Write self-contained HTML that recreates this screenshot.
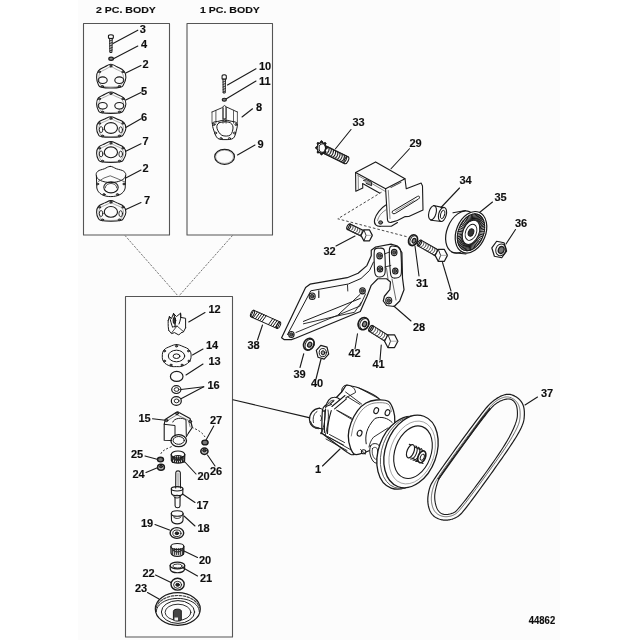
<!DOCTYPE html>
<html><head><meta charset="utf-8"><style>
html,body{margin:0;padding:0;background:#fff;}
svg{display:block;}
text{font-family:"Liberation Sans",sans-serif;font-weight:bold;fill:#111;stroke:#111;stroke-width:0.15px;}
</style></head><body>
<svg width="640" height="640" viewBox="0 0 640 640" stroke-linecap="round" stroke-linejoin="round">
<defs><filter id="soft" x="0" y="0" width="640" height="640" filterUnits="userSpaceOnUse"><feGaussianBlur stdDeviation="0.3"/></filter></defs>
<g filter="url(#soft)">
<rect x="0" y="0" width="640" height="640" fill="#ffffff"/>
<rect x="78" y="0" width="482" height="640" fill="#fcfcfc"/>
<text x="96" y="12.6" font-size="9.8" transform="translate(96 0) scale(1.08 1) translate(-96 0)">2 PC. BODY</text>
<text x="200" y="12.6" font-size="9.8" transform="translate(200 0) scale(1.08 1) translate(-200 0)">1 PC. BODY</text>
<rect x="83.5" y="23.5" width="86" height="211.5" fill="none" stroke="#555" stroke-width="1.1"/>
<rect x="187" y="23.5" width="85.5" height="211.5" fill="none" stroke="#555" stroke-width="1.1"/>
<rect x="125.5" y="296.5" width="107" height="340.5" fill="none" stroke="#555" stroke-width="1.1"/>
<line x1="125" y1="235.5" x2="178.5" y2="296.5" stroke="#666" stroke-width="0.9" stroke-dasharray="2.2,1.3" stroke-linecap="butt"/>
<line x1="232.5" y1="235.5" x2="178.5" y2="296.5" stroke="#666" stroke-width="0.9" stroke-dasharray="2.2,1.3" stroke-linecap="butt"/>
<text x="139.7" y="33.4" font-size="11">3</text>
<text x="141" y="48.4" font-size="11">4</text>
<text x="142.5" y="68.2" font-size="11">2</text>
<text x="141" y="94.9" font-size="11">5</text>
<text x="141" y="121.4" font-size="11">6</text>
<text x="142.5" y="145.4" font-size="11">7</text>
<text x="142.5" y="172.4" font-size="11">2</text>
<text x="144" y="204.4" font-size="11">7</text>
<text x="259" y="70.4" font-size="11">10</text>
<text x="259" y="84.9" font-size="11">11</text>
<text x="256" y="111.4" font-size="11">8</text>
<text x="257.5" y="148.4" font-size="11">9</text>
<text x="208.5" y="313.4" font-size="11">12</text>
<text x="206" y="349.4" font-size="11">14</text>
<text x="208.5" y="365.4" font-size="11">13</text>
<text x="207.5" y="389.4" font-size="11">16</text>
<text x="138.5" y="421.9" font-size="11">15</text>
<text x="210" y="424.4" font-size="11">27</text>
<text x="131" y="458.4" font-size="11">25</text>
<text x="132.5" y="478.4" font-size="11">24</text>
<text x="197.5" y="479.9" font-size="11">20</text>
<text x="210" y="475.4" font-size="11">26</text>
<text x="196.5" y="509.4" font-size="11">17</text>
<text x="197.5" y="532.4" font-size="11">18</text>
<text x="141" y="526.9" font-size="11">19</text>
<text x="199" y="564.4" font-size="11">20</text>
<text x="200" y="581.9" font-size="11">21</text>
<text x="142.5" y="576.6" font-size="11">22</text>
<text x="135" y="591.9" font-size="11">23</text>
<text x="352.5" y="126.4" font-size="11">33</text>
<text x="409.5" y="146.9" font-size="11">29</text>
<text x="459.5" y="183.9" font-size="11">34</text>
<text x="494.5" y="201.4" font-size="11">35</text>
<text x="515" y="226.9" font-size="11">36</text>
<text x="323.5" y="255.4" font-size="11">32</text>
<text x="416" y="287.4" font-size="11">31</text>
<text x="447" y="299.9" font-size="11">30</text>
<text x="413" y="331.4" font-size="11">28</text>
<text x="247.5" y="349.4" font-size="11">38</text>
<text x="348.5" y="357.4" font-size="11">42</text>
<text x="372.5" y="367.9" font-size="11">41</text>
<text x="293.5" y="377.9" font-size="11">39</text>
<text x="311" y="387.4" font-size="11">40</text>
<text x="315" y="473" font-size="11">1</text>
<text x="541" y="396.9" font-size="11">37</text>
<text x="528.8" y="623.8" font-size="11.3" transform="translate(528.8 0) scale(0.84 1) translate(-528.8 0)">44862</text>
<line x1="137.8" y1="30.2" x2="113" y2="43.6" stroke="#1a1a1a" stroke-width="1.1" />
<line x1="137.8" y1="46" x2="113.4" y2="58.75" stroke="#1a1a1a" stroke-width="1.1" />
<line x1="141" y1="65.5" x2="125.75" y2="73" stroke="#1a1a1a" stroke-width="1.1" />
<line x1="141" y1="92.5" x2="125.75" y2="100" stroke="#1a1a1a" stroke-width="1.1" />
<line x1="141" y1="118.75" x2="125.75" y2="127.5" stroke="#1a1a1a" stroke-width="1.1" />
<line x1="141" y1="143.75" x2="125.75" y2="151.25" stroke="#1a1a1a" stroke-width="1.1" />
<line x1="141" y1="170" x2="125.75" y2="178" stroke="#1a1a1a" stroke-width="1.1" />
<line x1="141" y1="202.5" x2="125.75" y2="209.5" stroke="#1a1a1a" stroke-width="1.1" />
<line x1="256" y1="68.75" x2="227.5" y2="85" stroke="#1a1a1a" stroke-width="1.1" />
<line x1="256" y1="81" x2="226" y2="99" stroke="#1a1a1a" stroke-width="1.1" />
<line x1="252.5" y1="108.75" x2="242" y2="117" stroke="#1a1a1a" stroke-width="1.1" />
<line x1="255" y1="145" x2="237.5" y2="155" stroke="#1a1a1a" stroke-width="1.1" />
<line x1="205" y1="312.5" x2="188.75" y2="322" stroke="#1a1a1a" stroke-width="1.1" />
<line x1="203" y1="349" x2="192.5" y2="355" stroke="#1a1a1a" stroke-width="1.1" />
<line x1="203" y1="364" x2="186" y2="375" stroke="#1a1a1a" stroke-width="1.1" />
<line x1="203.75" y1="386.75" x2="181" y2="389.5" stroke="#1a1a1a" stroke-width="1.1" />
<line x1="203.75" y1="386.75" x2="181" y2="398.75" stroke="#1a1a1a" stroke-width="1.1" />
<line x1="152.5" y1="418.75" x2="167.5" y2="420.5" stroke="#1a1a1a" stroke-width="1.1" />
<line x1="213.75" y1="426" x2="206" y2="440" stroke="#1a1a1a" stroke-width="1.1" />
<line x1="207.5" y1="455" x2="215" y2="466" stroke="#1a1a1a" stroke-width="1.1" />
<line x1="145" y1="456" x2="158" y2="459.5" stroke="#1a1a1a" stroke-width="1.1" />
<line x1="146" y1="472.5" x2="158" y2="467.5" stroke="#1a1a1a" stroke-width="1.1" />
<line x1="196" y1="474" x2="184" y2="461" stroke="#1a1a1a" stroke-width="1.1" />
<line x1="195" y1="502.5" x2="182.5" y2="494" stroke="#1a1a1a" stroke-width="1.1" />
<line x1="195" y1="526" x2="184" y2="516" stroke="#1a1a1a" stroke-width="1.1" />
<line x1="155" y1="524.5" x2="169.5" y2="530" stroke="#1a1a1a" stroke-width="1.1" />
<line x1="197.5" y1="557.5" x2="184" y2="551" stroke="#1a1a1a" stroke-width="1.1" />
<line x1="197.5" y1="576" x2="182.5" y2="567.5" stroke="#1a1a1a" stroke-width="1.1" />
<line x1="155.5" y1="575" x2="171" y2="582.5" stroke="#1a1a1a" stroke-width="1.1" />
<line x1="147.5" y1="592.5" x2="159" y2="599" stroke="#1a1a1a" stroke-width="1.1" />
<line x1="351" y1="129.5" x2="335.5" y2="148.75" stroke="#1a1a1a" stroke-width="1.1" />
<line x1="409.5" y1="148.75" x2="391" y2="168.75" stroke="#1a1a1a" stroke-width="1.1" />
<line x1="336" y1="246" x2="355" y2="236" stroke="#1a1a1a" stroke-width="1.1" />
<line x1="459.5" y1="188" x2="441" y2="207.5" stroke="#1a1a1a" stroke-width="1.1" />
<line x1="492.5" y1="202" x2="479.5" y2="212.5" stroke="#1a1a1a" stroke-width="1.1" />
<line x1="515.5" y1="229.5" x2="506" y2="244" stroke="#1a1a1a" stroke-width="1.1" />
<line x1="415" y1="246" x2="419" y2="276" stroke="#1a1a1a" stroke-width="1.1" />
<line x1="442.5" y1="262.5" x2="451" y2="291" stroke="#1a1a1a" stroke-width="1.1" />
<line x1="411" y1="321" x2="393.75" y2="306" stroke="#1a1a1a" stroke-width="1.1" />
<line x1="257.5" y1="340" x2="262.5" y2="325" stroke="#1a1a1a" stroke-width="1.1" />
<line x1="300" y1="367.5" x2="303.75" y2="353.75" stroke="#1a1a1a" stroke-width="1.1" />
<line x1="321" y1="359" x2="316" y2="379" stroke="#1a1a1a" stroke-width="1.1" />
<line x1="355" y1="348.75" x2="357.5" y2="333.75" stroke="#1a1a1a" stroke-width="1.1" />
<line x1="380" y1="360" x2="381.25" y2="345" stroke="#1a1a1a" stroke-width="1.1" />
<line x1="322.5" y1="466" x2="340" y2="449" stroke="#1a1a1a" stroke-width="1.1" />
<line x1="537.5" y1="397" x2="525" y2="405" stroke="#1a1a1a" stroke-width="1.1" />
<line x1="233" y1="399.8" x2="309" y2="417.6" stroke="#1a1a1a" stroke-width="1.1" />
<path d="M108.6,35.4 C108.75,35.16 110.59,34.7 110.9,34.7 C111.21,34.7 113.05,35.16 113.2,35.4 C113.35,35.64 113.51,38.11 113.2,38.3 C112.89,38.49 108.91,38.49 108.6,38.3 C108.29,38.11 108.45,35.64 108.6,35.4Z" fill="none" stroke="#1a1a1a" stroke-width="1.1" />
<path d="M109.7,38.3 L109.9,52.5 L111.9,52.5 L112.2,38.3" fill="none" stroke="#1a1a1a" stroke-width="1" />
<line x1="109.7" y1="41" x2="112.2" y2="40" stroke="#1a1a1a" stroke-width="0.9" />
<line x1="109.7" y1="43.5" x2="112.2" y2="42.5" stroke="#1a1a1a" stroke-width="0.9" />
<line x1="109.7" y1="46" x2="112.2" y2="45" stroke="#1a1a1a" stroke-width="0.9" />
<line x1="109.7" y1="48.5" x2="112.2" y2="47.5" stroke="#1a1a1a" stroke-width="0.9" />
<line x1="109.7" y1="51" x2="112.2" y2="50" stroke="#1a1a1a" stroke-width="0.9" />
<ellipse cx="111.1" cy="58.8" rx="2.3" ry="1.6" fill="#888" stroke="#1a1a1a" stroke-width="1.2"/>
<path d="M110.9,64.21 C113.3,64.21 114.34,65.5 116.9,66.81 C119.46,68.12 121.9,68.62 123.7,70.76 C125.5,72.9 125.96,74.71 125.9,77.52 C125.84,80.33 124.5,82.87 123.4,84.8 C122.3,86.73 122.9,86.55 120.4,87.19 C117.9,87.84 114.7,88.02 110.9,88.02 C107.1,88.02 103.9,87.84 101.4,87.19 C98.9,86.55 99.36,86.73 98.4,84.8 C97.44,82.87 96.6,80.33 96.6,77.52 C96.6,74.71 96.74,72.9 98.4,70.76 C100.06,68.62 102.4,68.12 104.9,66.81 C107.4,65.5 108.5,64.21 110.9,64.21Z" fill="none" stroke="#1a1a1a" stroke-width="1.05" />
<path d="M110.9,66.95 C112.92,66.95 113.79,68.04 115.94,69.14 C118.09,70.24 120.14,70.66 121.65,72.46 C123.16,74.26 123.55,75.78 123.5,78.14 C123.45,80.5 122.32,82.63 121.4,84.25 C120.48,85.88 120.98,85.72 118.88,86.26 C116.78,86.8 114.09,86.96 110.9,86.96 C107.71,86.96 105.02,86.8 102.92,86.26 C100.82,85.72 101.21,85.88 100.4,84.25 C99.59,82.63 98.89,80.5 98.89,78.14 C98.89,75.78 99.01,74.26 100.4,72.46 C101.79,70.66 103.76,70.24 105.86,69.14 C107.96,68.04 108.88,66.95 110.9,66.95Z" fill="none" stroke="#666" stroke-width="0.55" />
<ellipse cx="110.9" cy="65.98" rx="1.2" ry="0.9" fill="#666" stroke="#1a1a1a" stroke-width="0.8"/>
<ellipse cx="122.9" cy="71.8" rx="1.2" ry="0.9" fill="#666" stroke="#1a1a1a" stroke-width="0.8"/>
<ellipse cx="99.4" cy="71.8" rx="1.2" ry="0.9" fill="#666" stroke="#1a1a1a" stroke-width="0.8"/>
<ellipse cx="119.4" cy="86.36" rx="1.2" ry="0.9" fill="#666" stroke="#1a1a1a" stroke-width="0.8"/>
<ellipse cx="102.4" cy="86.36" rx="1.2" ry="0.9" fill="#666" stroke="#1a1a1a" stroke-width="0.8"/>
<ellipse cx="102.7" cy="80.2" rx="4.5" ry="3.3" fill="none" stroke="#1a1a1a" stroke-width="1.1"/>
<ellipse cx="119.3" cy="80.2" rx="4.5" ry="3.3" fill="none" stroke="#1a1a1a" stroke-width="1.1"/>
<path d="M110.9,91.94 C113.3,91.94 114.34,93.1 116.9,94.29 C119.46,95.47 121.9,95.92 123.7,97.86 C125.5,99.8 125.96,101.43 125.9,103.97 C125.84,106.51 124.5,108.8 123.4,110.55 C122.3,112.3 122.9,112.13 120.4,112.71 C117.9,113.29 114.7,113.46 110.9,113.46 C107.1,113.46 103.9,113.29 101.4,112.71 C98.9,112.13 99.36,112.3 98.4,110.55 C97.44,108.8 96.6,106.51 96.6,103.97 C96.6,101.43 96.74,99.8 98.4,97.86 C100.06,95.92 102.4,95.47 104.9,94.29 C107.4,93.1 108.5,91.94 110.9,91.94Z" fill="none" stroke="#1a1a1a" stroke-width="1.05" />
<path d="M110.9,94.49 C112.92,94.49 113.79,95.47 115.94,96.46 C118.09,97.46 120.14,97.84 121.65,99.46 C123.16,101.09 123.55,102.46 123.5,104.59 C123.45,106.73 122.32,108.65 121.4,110.12 C120.48,111.59 120.98,111.45 118.88,111.94 C116.78,112.43 114.09,112.57 110.9,112.57 C107.71,112.57 105.02,112.43 102.92,111.94 C100.82,111.45 101.21,111.59 100.4,110.12 C99.59,108.65 98.89,106.73 98.89,104.59 C98.89,102.46 99.01,101.09 100.4,99.46 C101.79,97.84 103.76,97.46 105.86,96.46 C107.96,95.47 108.88,94.49 110.9,94.49Z" fill="none" stroke="#666" stroke-width="0.55" />
<ellipse cx="110.9" cy="93.54" rx="1.2" ry="0.9" fill="#666" stroke="#1a1a1a" stroke-width="0.8"/>
<ellipse cx="122.9" cy="98.8" rx="1.2" ry="0.9" fill="#666" stroke="#1a1a1a" stroke-width="0.8"/>
<ellipse cx="99.4" cy="98.8" rx="1.2" ry="0.9" fill="#666" stroke="#1a1a1a" stroke-width="0.8"/>
<ellipse cx="119.4" cy="111.96" rx="1.2" ry="0.9" fill="#666" stroke="#1a1a1a" stroke-width="0.8"/>
<ellipse cx="102.4" cy="111.96" rx="1.2" ry="0.9" fill="#666" stroke="#1a1a1a" stroke-width="0.8"/>
<ellipse cx="102.7" cy="105.8" rx="4.5" ry="3.3" fill="none" stroke="#1a1a1a" stroke-width="1.1"/>
<ellipse cx="119.3" cy="105.8" rx="4.5" ry="3.3" fill="none" stroke="#1a1a1a" stroke-width="1.1"/>
<path d="M110.9,116.73 C113.3,116.73 114.34,117.85 116.9,118.98 C119.46,120.11 121.9,120.55 123.7,122.4 C125.5,124.25 125.96,125.82 125.9,128.25 C125.84,130.68 124.5,132.88 123.4,134.55 C122.3,136.22 122.9,136.06 120.4,136.62 C117.9,137.18 114.7,137.34 110.9,137.34 C107.1,137.34 103.9,137.18 101.4,136.62 C98.9,136.06 99.36,136.22 98.4,134.55 C97.44,132.88 96.6,130.68 96.6,128.25 C96.6,125.82 96.74,124.25 98.4,122.4 C100.06,120.55 102.4,120.11 104.9,118.98 C107.4,117.85 108.5,116.73 110.9,116.73Z" fill="none" stroke="#1a1a1a" stroke-width="1.05" />
<path d="M110.9,119.2 C112.92,119.2 113.79,120.14 115.94,121.09 C118.09,122.04 120.14,122.41 121.65,123.96 C123.16,125.52 123.55,126.84 123.5,128.88 C123.45,130.92 122.32,132.76 121.4,134.17 C120.48,135.58 120.98,135.44 118.88,135.91 C116.78,136.38 114.09,136.51 110.9,136.51 C107.71,136.51 105.02,136.38 102.92,135.91 C100.82,135.44 101.21,135.58 100.4,134.17 C99.59,132.76 98.89,130.92 98.89,128.88 C98.89,126.84 99.01,125.52 100.4,123.96 C101.79,122.41 103.76,122.04 105.86,121.09 C107.96,120.14 108.88,119.2 110.9,119.2Z" fill="none" stroke="#666" stroke-width="0.55" />
<ellipse cx="110.9" cy="118.26" rx="1.2" ry="0.9" fill="#666" stroke="#1a1a1a" stroke-width="0.8"/>
<ellipse cx="122.9" cy="123.3" rx="1.2" ry="0.9" fill="#666" stroke="#1a1a1a" stroke-width="0.8"/>
<ellipse cx="99.4" cy="123.3" rx="1.2" ry="0.9" fill="#666" stroke="#1a1a1a" stroke-width="0.8"/>
<ellipse cx="119.4" cy="135.9" rx="1.2" ry="0.9" fill="#666" stroke="#1a1a1a" stroke-width="0.8"/>
<ellipse cx="102.4" cy="135.9" rx="1.2" ry="0.9" fill="#666" stroke="#1a1a1a" stroke-width="0.8"/>
<ellipse cx="110.9" cy="128" rx="6.6" ry="5.4" fill="none" stroke="#1a1a1a" stroke-width="1.1"/>
<ellipse cx="101.1" cy="129.6" rx="1.8" ry="3" fill="none" stroke="#1a1a1a" stroke-width="0.9"/>
<ellipse cx="120.7" cy="129.8" rx="1.8" ry="3" fill="none" stroke="#1a1a1a" stroke-width="0.9"/>
<path d="M110.9,141.48 C113.3,141.48 114.34,142.62 116.9,143.78 C119.46,144.94 121.9,145.38 123.7,147.28 C125.5,149.18 125.96,150.78 125.9,153.26 C125.84,155.74 124.5,157.99 123.4,159.7 C122.3,161.41 122.9,161.25 120.4,161.82 C117.9,162.39 114.7,162.55 110.9,162.55 C107.1,162.55 103.9,162.39 101.4,161.82 C98.9,161.25 99.36,161.41 98.4,159.7 C97.44,157.99 96.6,155.74 96.6,153.26 C96.6,150.78 96.74,149.18 98.4,147.28 C100.06,145.38 102.4,144.94 104.9,143.78 C107.4,142.62 108.5,141.48 110.9,141.48Z" fill="none" stroke="#1a1a1a" stroke-width="1.05" />
<path d="M110.9,143.99 C112.92,143.99 113.79,144.95 115.94,145.93 C118.09,146.9 120.14,147.27 121.65,148.86 C123.16,150.46 123.55,151.8 123.5,153.89 C123.45,155.97 122.32,157.86 121.4,159.3 C120.48,160.73 120.98,160.59 118.88,161.07 C116.78,161.55 114.09,161.69 110.9,161.69 C107.71,161.69 105.02,161.55 102.92,161.07 C100.82,160.59 101.21,160.73 100.4,159.3 C99.59,157.86 98.89,155.97 98.89,153.89 C98.89,151.8 99.01,150.46 100.4,148.86 C101.79,147.27 103.76,146.9 105.86,145.93 C107.96,144.95 108.88,143.99 110.9,143.99Z" fill="none" stroke="#666" stroke-width="0.55" />
<ellipse cx="110.9" cy="143.05" rx="1.2" ry="0.9" fill="#666" stroke="#1a1a1a" stroke-width="0.8"/>
<ellipse cx="122.9" cy="148.2" rx="1.2" ry="0.9" fill="#666" stroke="#1a1a1a" stroke-width="0.8"/>
<ellipse cx="99.4" cy="148.2" rx="1.2" ry="0.9" fill="#666" stroke="#1a1a1a" stroke-width="0.8"/>
<ellipse cx="119.4" cy="161.08" rx="1.2" ry="0.9" fill="#666" stroke="#1a1a1a" stroke-width="0.8"/>
<ellipse cx="102.4" cy="161.08" rx="1.2" ry="0.9" fill="#666" stroke="#1a1a1a" stroke-width="0.8"/>
<ellipse cx="110.9" cy="152.3" rx="6.6" ry="5.4" fill="none" stroke="#1a1a1a" stroke-width="1.1"/>
<ellipse cx="101.1" cy="153.9" rx="1.8" ry="3" fill="none" stroke="#1a1a1a" stroke-width="0.9"/>
<ellipse cx="120.7" cy="154.1" rx="1.8" ry="3" fill="none" stroke="#1a1a1a" stroke-width="0.9"/>
<path d="M110.9,200.63 C113.3,200.63 114.34,201.75 116.9,202.88 C119.46,204.01 121.9,204.45 123.7,206.3 C125.5,208.15 125.96,209.72 125.9,212.15 C125.84,214.58 124.5,216.78 123.4,218.45 C122.3,220.12 122.9,219.96 120.4,220.52 C117.9,221.08 114.7,221.24 110.9,221.24 C107.1,221.24 103.9,221.08 101.4,220.52 C98.9,219.96 99.36,220.12 98.4,218.45 C97.44,216.78 96.6,214.58 96.6,212.15 C96.6,209.72 96.74,208.15 98.4,206.3 C100.06,204.45 102.4,204.01 104.9,202.88 C107.4,201.75 108.5,200.63 110.9,200.63Z" fill="none" stroke="#1a1a1a" stroke-width="1.05" />
<path d="M110.9,203.1 C112.92,203.1 113.79,204.04 115.94,204.99 C118.09,205.94 120.14,206.31 121.65,207.86 C123.16,209.42 123.55,210.74 123.5,212.78 C123.45,214.82 122.32,216.66 121.4,218.07 C120.48,219.48 120.98,219.34 118.88,219.81 C116.78,220.28 114.09,220.41 110.9,220.41 C107.71,220.41 105.02,220.28 102.92,219.81 C100.82,219.34 101.21,219.48 100.4,218.07 C99.59,216.66 98.89,214.82 98.89,212.78 C98.89,210.74 99.01,209.42 100.4,207.86 C101.79,206.31 103.76,205.94 105.86,204.99 C107.96,204.04 108.88,203.1 110.9,203.1Z" fill="none" stroke="#666" stroke-width="0.55" />
<ellipse cx="110.9" cy="202.16" rx="1.2" ry="0.9" fill="#666" stroke="#1a1a1a" stroke-width="0.8"/>
<ellipse cx="122.9" cy="207.2" rx="1.2" ry="0.9" fill="#666" stroke="#1a1a1a" stroke-width="0.8"/>
<ellipse cx="99.4" cy="207.2" rx="1.2" ry="0.9" fill="#666" stroke="#1a1a1a" stroke-width="0.8"/>
<ellipse cx="119.4" cy="219.8" rx="1.2" ry="0.9" fill="#666" stroke="#1a1a1a" stroke-width="0.8"/>
<ellipse cx="102.4" cy="219.8" rx="1.2" ry="0.9" fill="#666" stroke="#1a1a1a" stroke-width="0.8"/>
<ellipse cx="110.9" cy="211.9" rx="6.6" ry="5.4" fill="none" stroke="#1a1a1a" stroke-width="1.1"/>
<ellipse cx="101.1" cy="213.5" rx="1.8" ry="3" fill="none" stroke="#1a1a1a" stroke-width="0.9"/>
<ellipse cx="120.7" cy="213.7" rx="1.8" ry="3" fill="none" stroke="#1a1a1a" stroke-width="0.9"/>
<path d="M110.3,166.4 C112.74,166.4 113.8,167.82 116.5,168.8 C119.2,169.78 121.98,169.86 123.8,171.3 C125.62,172.74 126.16,174.16 125.6,176 C125.04,177.84 123.96,179.2 121,180.5 C118.04,181.8 114.9,182.5 110.8,182.5 C106.7,182.5 103.38,181.8 100.5,180.5 C97.62,179.2 96.94,177.84 96.4,176 C95.86,174.16 96.22,172.74 97.8,171.3 C99.38,169.86 101.8,169.78 104.3,168.8 C106.8,167.82 107.86,166.4 110.3,166.4Z" fill="none" stroke="#1a1a1a" stroke-width="1" />
<path d="M98.4,181.4 L104,178 L110.2,175.8 L117,178.5 L124.7,181.9" fill="none" stroke="#444" stroke-width="0.8" />
<path d="M96.4,176 L96.8,188 C98,194 104,196.6 110.8,196.6 C117.6,196.6 124,194 125.2,188 L125.6,176" fill="none" stroke="#1a1a1a" stroke-width="1" />
<ellipse cx="111" cy="187.3" rx="7.2" ry="5.6" fill="none" stroke="#1a1a1a" stroke-width="1.1"/>
<path d="M105.4,187.8 L105.45,187.24 L105.59,186.69 L105.83,186.15 L106.15,185.65 L106.56,185.18 L107.04,184.76 L107.59,184.39 L108.2,184.08 L108.86,183.83 L109.55,183.65 L110.27,183.54 L111,183.5 L111.73,183.54 L112.45,183.65 L113.14,183.83 L113.8,184.08 L114.41,184.39 L114.96,184.76 L115.44,185.18 L115.85,185.65 L116.17,186.15 L116.41,186.69 L116.55,187.24 L116.6,187.8" fill="none" stroke="#222" stroke-width="0.9" />
<ellipse cx="97.5" cy="184" rx="1.2" ry="0.9" fill="#666" stroke="#1a1a1a" stroke-width="0.8"/>
<ellipse cx="124" cy="184" rx="1.2" ry="0.9" fill="#666" stroke="#1a1a1a" stroke-width="0.8"/>
<ellipse cx="104" cy="194.5" rx="1.2" ry="0.9" fill="#666" stroke="#1a1a1a" stroke-width="0.8"/>
<ellipse cx="117.5" cy="194.5" rx="1.2" ry="0.9" fill="#666" stroke="#1a1a1a" stroke-width="0.8"/>
<path d="M222.2,75.6 C222.33,75.32 223.93,74.8 224.2,74.8 C224.47,74.8 226.07,75.32 226.2,75.6 C226.33,75.88 226.47,78.77 226.2,79 C225.93,79.23 222.47,79.23 222.2,79 C221.93,78.77 222.07,75.88 222.2,75.6Z" fill="none" stroke="#1a1a1a" stroke-width="1.1" />
<path d="M223,79 L223.2,93 L225.2,93 L225.4,79" fill="none" stroke="#1a1a1a" stroke-width="1" />
<line x1="223" y1="82" x2="225.4" y2="81" stroke="#1a1a1a" stroke-width="0.8" />
<line x1="223" y1="84.5" x2="225.4" y2="83.5" stroke="#1a1a1a" stroke-width="0.8" />
<line x1="223" y1="87" x2="225.4" y2="86" stroke="#1a1a1a" stroke-width="0.8" />
<line x1="223" y1="89.5" x2="225.4" y2="88.5" stroke="#1a1a1a" stroke-width="0.8" />
<line x1="223" y1="92" x2="225.4" y2="91" stroke="#1a1a1a" stroke-width="0.8" />
<ellipse cx="224.3" cy="99.8" rx="2.1" ry="1.5" fill="#777" stroke="#1a1a1a" stroke-width="1.1"/>
<path d="M212,112 L221.8,107.8 L224.4,105.5 L226.5,107 L237.4,112" fill="none" stroke="#1a1a1a" stroke-width="0.9" />
<line x1="212" y1="112" x2="212" y2="123.2" stroke="#333" stroke-width="0.8" />
<line x1="215.9" y1="110.3" x2="215.9" y2="123.2" stroke="#333" stroke-width="0.8" />
<line x1="223" y1="107.8" x2="223" y2="123.2" stroke="#333" stroke-width="0.8" />
<line x1="226.1" y1="107.3" x2="226.1" y2="123.2" stroke="#333" stroke-width="0.8" />
<line x1="233.5" y1="110.3" x2="233.5" y2="123.2" stroke="#333" stroke-width="0.8" />
<line x1="237.4" y1="112" x2="237.4" y2="123.2" stroke="#333" stroke-width="0.8" />
<path d="M223,107.8 L223,119 L226.1,118.5 L226.1,107.3" fill="none" stroke="#1a1a1a" stroke-width="0.8" />
<path d="M212.6,123 C213.43,121.37 217.02,121.7 219,121.2 C220.98,120.7 222.67,120.03 224.5,120 C226.33,119.97 227.92,120.47 230,121 C232.08,121.53 235.97,121.53 237,123.2 C238.03,124.87 236.83,128.48 236.2,131 C235.57,133.52 235.07,136.87 233.2,138.3 C231.33,139.73 227.58,139.6 225,139.6 C222.42,139.6 219.53,139.73 217.7,138.3 C215.87,136.87 214.85,133.55 214,131 C213.15,128.45 211.77,124.63 212.6,123Z" fill="none" stroke="#1a1a1a" stroke-width="1" />
<path d="M219,122.8 C221,121.78 226.67,121.5 229,122.2 C231.33,122.9 232.77,124.87 233,127 C233.23,129.13 232.25,133.62 230.4,135 C228.55,136.38 224.13,136.42 221.9,135.3 C219.67,134.18 217.48,130.38 217,128.3 C216.52,126.22 217,123.82 219,122.8Z" fill="none" stroke="#1a1a1a" stroke-width="1" />
<ellipse cx="214" cy="124.5" rx="1.1" ry="1" fill="#aaa" stroke="#1a1a1a" stroke-width="0.8"/>
<ellipse cx="236" cy="124.5" rx="1.1" ry="1" fill="#aaa" stroke="#1a1a1a" stroke-width="0.8"/>
<ellipse cx="215.5" cy="133" rx="1.1" ry="1" fill="#aaa" stroke="#1a1a1a" stroke-width="0.8"/>
<ellipse cx="234.5" cy="133" rx="1.1" ry="1" fill="#aaa" stroke="#1a1a1a" stroke-width="0.8"/>
<ellipse cx="221" cy="138.5" rx="1.1" ry="1" fill="#aaa" stroke="#1a1a1a" stroke-width="0.8"/>
<ellipse cx="229.5" cy="138.5" rx="1.1" ry="1" fill="#aaa" stroke="#1a1a1a" stroke-width="0.8"/>
<ellipse cx="224.8" cy="120.8" rx="1.1" ry="1" fill="#aaa" stroke="#1a1a1a" stroke-width="0.8"/>
<ellipse cx="224.6" cy="156.8" rx="9.9" ry="7.5" fill="none" stroke="#1a1a1a" stroke-width="1.2"/>
<ellipse cx="224.6" cy="156.8" rx="8.9" ry="6.6" fill="none" stroke="#777" stroke-width="0.5"/>
<path d="M168.2,320.5 C168,325 168.3,329 168.8,330.5" fill="none" stroke="#1a1a1a" stroke-width="1" />
<path d="M168.8,330.5 L171.6,333.6 L174.5,332.6 L178.8,335 L181,332.8 L183.4,332 L185.6,327.8" fill="none" stroke="#1a1a1a" stroke-width="1" />
<path d="M185.6,327.8 L185.6,318.3 L181.3,317.5" fill="none" stroke="#1a1a1a" stroke-width="1" />
<path d="M169.4,316.5 C170.5,320 171.5,325 172.5,327" fill="none" stroke="#1a1a1a" stroke-width="1" />
<path d="M173.5,313.5 C175,317 175.5,322 175,327" fill="none" stroke="#1a1a1a" stroke-width="1.2" />
<path d="M180.6,313.2 C181.5,316 180.5,320 179,324" fill="none" stroke="#1a1a1a" stroke-width="1" />
<path d="M172.5,327 L177,326 L183.4,331.5 M177,326 L171.5,333" fill="none" stroke="#1a1a1a" stroke-width="0.8" />
<ellipse cx="174.4" cy="320.5" rx="1.3" ry="3.4" fill="#333" stroke="#1a1a1a" stroke-width="1"/>
<path d="M168.2,320.5 L169.4,316.5 L171.5,318.5 L173.5,313.5 L176.5,316.5 L180.6,313.2 L180.6,317.3" fill="none" stroke="#1a1a1a" stroke-width="1" />
<path d="M176.5,344.6 C179.1,344.6 180.44,345.42 183,346.5 C185.56,347.58 187.68,348.1 189.3,350 C190.92,351.9 191.16,353.6 191.1,356 C191.04,358.4 190.72,360 189,362 C187.28,364 185,365.08 182.5,366 C180,366.92 179,366.6 176.5,366.6 C174,366.6 172.54,366.92 170,366 C167.46,365.08 165.34,364 163.8,362 C162.26,360 162.26,358.4 162.3,356 C162.34,353.6 162.46,351.9 164,350 C165.54,348.1 167.5,347.58 170,346.5 C172.5,345.42 173.9,344.6 176.5,344.6Z" fill="none" stroke="#1a1a1a" stroke-width="1" />
<ellipse cx="176.5" cy="356" rx="8.2" ry="5.8" fill="none" stroke="#1a1a1a" stroke-width="1"/>
<ellipse cx="176.5" cy="356.2" rx="3.4" ry="2.3" fill="none" stroke="#1a1a1a" stroke-width="1"/>
<ellipse cx="176.5" cy="346.2" rx="1.1" ry="0.9" fill="#666" stroke="#1a1a1a" stroke-width="0.8"/>
<ellipse cx="188.5" cy="351" rx="1.1" ry="0.9" fill="#666" stroke="#1a1a1a" stroke-width="0.8"/>
<ellipse cx="189" cy="361" rx="1.1" ry="0.9" fill="#666" stroke="#1a1a1a" stroke-width="0.8"/>
<ellipse cx="164.5" cy="351" rx="1.1" ry="0.9" fill="#666" stroke="#1a1a1a" stroke-width="0.8"/>
<ellipse cx="164.5" cy="361" rx="1.1" ry="0.9" fill="#666" stroke="#1a1a1a" stroke-width="0.8"/>
<ellipse cx="171" cy="365" rx="1.1" ry="0.9" fill="#666" stroke="#1a1a1a" stroke-width="0.8"/>
<ellipse cx="182" cy="365" rx="1.1" ry="0.9" fill="#666" stroke="#1a1a1a" stroke-width="0.8"/>
<ellipse cx="176.7" cy="376.4" rx="6.3" ry="5" fill="none" stroke="#1a1a1a" stroke-width="1.2"/>
<ellipse cx="176.3" cy="389.6" rx="4.6" ry="3.9" fill="none" stroke="#1a1a1a" stroke-width="1.2"/>
<ellipse cx="176.6" cy="389.5" rx="2.4" ry="1.9" fill="none" stroke="#1a1a1a" stroke-width="0.9"/>
<ellipse cx="176.3" cy="401" rx="5" ry="4.3" fill="none" stroke="#1a1a1a" stroke-width="1.2"/>
<ellipse cx="176.6" cy="400.9" rx="2.4" ry="1.9" fill="none" stroke="#1a1a1a" stroke-width="0.9"/>
<path d="M165.2,419.5 L176,412.6 C177,411.8 178,411.8 179,412.4 L190,418.5 L192.3,427.5 L188.5,433" fill="none" stroke="#1a1a1a" stroke-width="1.2" />
<path d="M167.5,420.5 L177,414.8 L188.3,420.2 L190.2,427" fill="none" stroke="#555" stroke-width="0.7" />
<path d="M165.2,419.5 L164.2,424.3 L164.2,440.3 L171.5,440.5" fill="none" stroke="#1a1a1a" stroke-width="1.1" />
<path d="M164.2,424.3 L175,425.5 L175,436" fill="none" stroke="#1a1a1a" stroke-width="1" />
<path d="M172.8,422 C174,418 182,417 186,420 L186.3,436" fill="none" stroke="#1a1a1a" stroke-width="1" />
<path d="M188.5,433 L186.3,437" fill="none" stroke="#1a1a1a" stroke-width="1" />
<ellipse cx="178.7" cy="440.7" rx="7.8" ry="6" fill="none" stroke="#1a1a1a" stroke-width="1.3"/>
<ellipse cx="178.7" cy="440.4" rx="5.6" ry="3.9" fill="none" stroke="#1a1a1a" stroke-width="1"/>
<ellipse cx="177" cy="413.5" rx="1.5" ry="1.2" fill="#666" stroke="#1a1a1a" stroke-width="0.9"/>
<ellipse cx="166.5" cy="420.5" rx="1.4" ry="1.2" fill="#666" stroke="#1a1a1a" stroke-width="0.9"/>
<ellipse cx="190.3" cy="421.5" rx="1.4" ry="1.2" fill="#666" stroke="#1a1a1a" stroke-width="0.9"/>
<path d="M191.6,427.2 C198,430 202,432 205,437" fill="none" stroke="#333" stroke-width="1" stroke-dasharray="2,1.8" stroke-linecap="butt"/>
<path d="M171.7,446.6 C166,449 161,451 160.5,455" fill="none" stroke="#333" stroke-width="1" stroke-dasharray="2,1.8" stroke-linecap="butt"/>
<ellipse cx="205" cy="442.5" rx="3.1" ry="2.4" fill="#777" stroke="#1a1a1a" stroke-width="1.4"/>
<ellipse cx="204.4" cy="451.3" rx="3.6" ry="3.2" fill="#bbb" stroke="#1a1a1a" stroke-width="1.5"/>
<ellipse cx="204.4" cy="450.6" rx="1.7" ry="1.3" fill="#444" stroke="#1a1a1a" stroke-width="0.9"/>
<ellipse cx="160.5" cy="459.6" rx="3" ry="2.3" fill="#777" stroke="#1a1a1a" stroke-width="1.4"/>
<ellipse cx="161" cy="467.3" rx="3.4" ry="3" fill="#bbb" stroke="#1a1a1a" stroke-width="1.5"/>
<ellipse cx="161" cy="466.6" rx="1.6" ry="1.2" fill="#444" stroke="#1a1a1a" stroke-width="0.9"/>
<ellipse cx="178" cy="454.6" rx="6.8" ry="3.6" fill="none" stroke="#1a1a1a" stroke-width="1.2"/>
<path d="M171.2,454.6 L171.4,460.5 C172.5,464 183.5,464 184.6,460.5 L184.8,454.6" fill="none" stroke="#1a1a1a" stroke-width="1.2" />
<line x1="172.5" y1="456.5" x2="172.5" y2="462.5" stroke="#222" stroke-width="1.2" />
<line x1="174.5" y1="456.5" x2="174.5" y2="462.5" stroke="#222" stroke-width="1.2" />
<line x1="176.5" y1="456.5" x2="176.5" y2="462.5" stroke="#222" stroke-width="1.2" />
<line x1="178.5" y1="456.5" x2="178.5" y2="462.5" stroke="#222" stroke-width="1.2" />
<line x1="180.5" y1="456.5" x2="180.5" y2="462.5" stroke="#222" stroke-width="1.2" />
<line x1="182.5" y1="456.5" x2="182.5" y2="462.5" stroke="#222" stroke-width="1.2" />
<line x1="184" y1="456.5" x2="184" y2="462.5" stroke="#222" stroke-width="1.2" />
<ellipse cx="178" cy="457.5" rx="4.5" ry="2" fill="none" stroke="#1a1a1a" stroke-width="1.2"/>
<path d="M173,458.5 C175,461 181,461 183,458.5" fill="none" stroke="#333" stroke-width="1.5" />
<path d="M175.7,488 L175.8,472.5 C176,470.3 180,470.3 180.3,472.5 L180.5,488" fill="none" stroke="#1a1a1a" stroke-width="1.1" />
<line x1="178" y1="473" x2="178.1" y2="487" stroke="#555" stroke-width="0.7" />
<ellipse cx="177.1" cy="488.8" rx="5.8" ry="2.2" fill="none" stroke="#1a1a1a" stroke-width="1.1"/>
<path d="M171.3,488.8 L171.5,493.5 C172.5,496.5 182,496.5 182.8,493.5 L182.9,488.8" fill="none" stroke="#1a1a1a" stroke-width="1.1" />
<ellipse cx="177.1" cy="496.6" rx="3.2" ry="1.4" fill="none" stroke="#1a1a1a" stroke-width="0.9"/>
<path d="M175,497 L175.1,506 C175.5,508.3 179.6,508.3 180,506 L180.1,497" fill="none" stroke="#1a1a1a" stroke-width="1.1" />
<ellipse cx="177.2" cy="513.5" rx="5.9" ry="2.8" fill="none" stroke="#1a1a1a" stroke-width="1.1"/>
<path d="M171.3,513.5 L171.5,520.5 C173,525 181.5,525 183,520.5 L183.1,513.5" fill="none" stroke="#1a1a1a" stroke-width="1.1" />
<path d="M173.5,517 C175,519 179.5,519 181,517" fill="none" stroke="#1a1a1a" stroke-width="0.9" />
<ellipse cx="176.9" cy="533" rx="6.8" ry="5.4" fill="none" stroke="#1a1a1a" stroke-width="1.4"/>
<ellipse cx="176.9" cy="533.3" rx="4.1" ry="3.3" fill="none" stroke="#1a1a1a" stroke-width="0.9"/>
<ellipse cx="176.9" cy="533.3" rx="1.8" ry="1.4" fill="#222" stroke="#1a1a1a" stroke-width="1"/>
<ellipse cx="177.4" cy="546.5" rx="6.5" ry="3" fill="none" stroke="#1a1a1a" stroke-width="1.2"/>
<path d="M170.9,546.5 L171,553.2 C172,557.5 182.8,557.5 183.8,553.2 L183.9,546.5" fill="none" stroke="#1a1a1a" stroke-width="1.2" />
<line x1="172.3" y1="548.5" x2="172.3" y2="554.5" stroke="#222" stroke-width="1.1" />
<line x1="174.3" y1="548.5" x2="174.3" y2="554.5" stroke="#222" stroke-width="1.1" />
<line x1="176.3" y1="548.5" x2="176.3" y2="554.5" stroke="#222" stroke-width="1.1" />
<line x1="178.3" y1="548.5" x2="178.3" y2="554.5" stroke="#222" stroke-width="1.1" />
<line x1="180.3" y1="548.5" x2="180.3" y2="554.5" stroke="#222" stroke-width="1.1" />
<line x1="182.3" y1="548.5" x2="182.3" y2="554.5" stroke="#222" stroke-width="1.1" />
<line x1="183.5" y1="548.5" x2="183.5" y2="554.5" stroke="#222" stroke-width="1.1" />
<path d="M173,550 C175,552.5 180,552.5 182,550" fill="none" stroke="#333" stroke-width="1.4" />
<ellipse cx="177.4" cy="565.5" rx="7.3" ry="3.3" fill="none" stroke="#1a1a1a" stroke-width="1.2"/>
<path d="M170.1,565.5 L170.3,569.5 C171.5,573.8 183.3,573.8 184.5,569.5 L184.7,565.5" fill="none" stroke="#1a1a1a" stroke-width="1.2" />
<ellipse cx="177.4" cy="566" rx="4.6" ry="2" fill="none" stroke="#1a1a1a" stroke-width="0.9"/>
<ellipse cx="177.6" cy="584.2" rx="6.6" ry="5.9" fill="none" stroke="#1a1a1a" stroke-width="1.4"/>
<ellipse cx="177.6" cy="584.8" rx="4" ry="3.5" fill="none" stroke="#1a1a1a" stroke-width="0.9"/>
<ellipse cx="177.6" cy="584.8" rx="1.8" ry="1.5" fill="#222" stroke="#1a1a1a" stroke-width="1"/>
<ellipse cx="177.8" cy="609" rx="22.5" ry="16.3" fill="none" stroke="#1a1a1a" stroke-width="1.2"/>
<path d="M156.3,611.8 L156.48,610.05 L157.03,608.33 L157.94,606.67 L159.18,605.1 L160.74,603.64 L162.6,602.32 L164.71,601.17 L167.05,600.2 L169.57,599.42 L172.24,598.86 L174.99,598.51 L177.8,598.4 L180.61,598.51 L183.36,598.86 L186.03,599.42 L188.55,600.2 L190.89,601.17 L193,602.32 L194.86,603.64 L196.42,605.1 L197.66,606.67 L198.57,608.33 L199.12,610.05 L199.3,611.8" fill="none" stroke="#222" stroke-width="1" />
<path d="M156.13,607.73 L156.72,606.06 L157.6,604.44 L158.75,602.9 L160.15,601.46 L161.8,600.14 L163.66,598.96 L165.71,597.93 L167.93,597.07 L170.28,596.39 L172.73,595.9 L175.25,595.6 L177.8,595.5 L180.35,595.6 L182.87,595.9 L185.32,596.39 L187.67,597.07 L189.89,597.93 L191.94,598.96 L193.8,600.14 L195.45,601.46 L196.85,602.9 L198,604.44 L198.88,606.06 L199.47,607.73" fill="none" stroke="#444" stroke-width="1.2" stroke-dasharray="2.5,1.5"/>
<ellipse cx="178" cy="612" rx="16.6" ry="11.4" fill="none" stroke="#1a1a1a" stroke-width="1"/>
<ellipse cx="178" cy="612.3" rx="12.9" ry="8.1" fill="none" stroke="#1a1a1a" stroke-width="0.9"/>
<path d="M173.4,611 C173.4,608.5 181.3,608.5 181.3,611 L181.3,620 C181.3,621.5 173.4,621.5 173.4,620Z" fill="#444" stroke="#1a1a1a" stroke-width="1" />
<path d="M174.5,617.5 L178,617.5 L178,620.5 L174.5,620.5Z" fill="#eee" stroke="none" stroke-width="0" />
<path d="M322.83,152.91 L344.73,163.61 L348.07,156.79 L326.17,146.09" fill="none" stroke="#1a1a1a" stroke-width="1.2" />
<ellipse cx="346.4" cy="160.2" rx="1.9" ry="3.8" fill="#fff" stroke="#1a1a1a" stroke-width="1.1" transform="rotate(26.04 346.4 160.2)"/>
<path d="M328.36,147.16 L328.57,147.29 L328.74,147.49 L328.88,147.73 L328.99,148.03 L329.05,148.37 L329.08,148.75 L329.06,149.15 L329,149.59 L328.91,150.03 L328.77,150.49 L328.6,150.95 L328.4,151.4 L328.16,151.84 L327.91,152.26 L327.63,152.65 L327.33,153 L327.03,153.31 L326.72,153.57 L326.41,153.79 L326.1,153.94 L325.8,154.04 L325.52,154.08 L325.26,154.06 L325.02,153.98" fill="none" stroke="#222" stroke-width="1.2" />
<path d="M330.55,148.23 L330.76,148.36 L330.93,148.56 L331.07,148.8 L331.18,149.1 L331.24,149.44 L331.27,149.82 L331.25,150.22 L331.19,150.66 L331.1,151.1 L330.96,151.56 L330.79,152.02 L330.59,152.47 L330.35,152.91 L330.1,153.33 L329.82,153.72 L329.52,154.07 L329.22,154.38 L328.91,154.64 L328.6,154.86 L328.29,155.01 L327.99,155.11 L327.71,155.15 L327.45,155.13 L327.21,155.05" fill="none" stroke="#222" stroke-width="1.2" />
<path d="M332.74,149.3 L332.95,149.43 L333.12,149.63 L333.26,149.87 L333.37,150.17 L333.43,150.51 L333.46,150.89 L333.44,151.29 L333.38,151.73 L333.29,152.17 L333.15,152.63 L332.98,153.09 L332.78,153.54 L332.54,153.98 L332.29,154.4 L332.01,154.79 L331.71,155.14 L331.41,155.45 L331.1,155.71 L330.79,155.93 L330.48,156.08 L330.18,156.18 L329.9,156.22 L329.64,156.2 L329.4,156.12" fill="none" stroke="#222" stroke-width="1.2" />
<path d="M334.93,150.37 L335.14,150.5 L335.31,150.7 L335.45,150.94 L335.56,151.24 L335.62,151.58 L335.65,151.96 L335.63,152.36 L335.57,152.8 L335.48,153.24 L335.34,153.7 L335.17,154.16 L334.97,154.61 L334.73,155.05 L334.48,155.47 L334.2,155.86 L333.9,156.21 L333.6,156.52 L333.29,156.78 L332.98,157 L332.67,157.15 L332.37,157.25 L332.09,157.29 L331.83,157.27 L331.59,157.19" fill="none" stroke="#222" stroke-width="1.2" />
<path d="M337.12,151.44 L337.33,151.57 L337.5,151.77 L337.64,152.01 L337.75,152.31 L337.81,152.65 L337.84,153.03 L337.82,153.43 L337.76,153.87 L337.67,154.31 L337.53,154.77 L337.36,155.23 L337.16,155.68 L336.92,156.12 L336.67,156.54 L336.39,156.93 L336.09,157.28 L335.79,157.59 L335.48,157.85 L335.17,158.07 L334.86,158.22 L334.56,158.32 L334.28,158.36 L334.02,158.34 L333.78,158.26" fill="none" stroke="#222" stroke-width="1.2" />
<path d="M339.31,152.51 L339.52,152.64 L339.69,152.84 L339.83,153.08 L339.94,153.38 L340,153.72 L340.03,154.1 L340.01,154.5 L339.95,154.94 L339.86,155.38 L339.72,155.84 L339.55,156.3 L339.35,156.75 L339.11,157.19 L338.86,157.61 L338.58,158 L338.28,158.35 L337.98,158.66 L337.67,158.92 L337.36,159.14 L337.05,159.29 L336.75,159.39 L336.47,159.43 L336.21,159.41 L335.97,159.33" fill="none" stroke="#222" stroke-width="1.2" />
<path d="M341.5,153.58 L341.71,153.71 L341.88,153.91 L342.02,154.15 L342.13,154.45 L342.19,154.79 L342.22,155.17 L342.2,155.57 L342.14,156.01 L342.05,156.45 L341.91,156.91 L341.74,157.37 L341.54,157.82 L341.3,158.26 L341.05,158.68 L340.77,159.07 L340.47,159.42 L340.17,159.73 L339.86,159.99 L339.55,160.21 L339.24,160.36 L338.94,160.46 L338.66,160.5 L338.4,160.48 L338.16,160.4" fill="none" stroke="#222" stroke-width="1.2" />
<path d="M343.69,154.65 L343.9,154.78 L344.07,154.98 L344.21,155.22 L344.32,155.52 L344.38,155.86 L344.41,156.24 L344.39,156.64 L344.33,157.08 L344.24,157.52 L344.1,157.98 L343.93,158.44 L343.73,158.89 L343.49,159.33 L343.24,159.75 L342.96,160.14 L342.66,160.49 L342.36,160.8 L342.05,161.06 L341.74,161.28 L341.43,161.43 L341.13,161.53 L340.85,161.57 L340.59,161.55 L340.35,161.47" fill="none" stroke="#222" stroke-width="1.2" />
<path d="M345.88,155.72 L346.09,155.85 L346.26,156.05 L346.4,156.29 L346.51,156.59 L346.57,156.93 L346.6,157.31 L346.58,157.71 L346.52,158.15 L346.43,158.59 L346.29,159.05 L346.12,159.51 L345.92,159.96 L345.68,160.4 L345.43,160.82 L345.15,161.21 L344.85,161.56 L344.55,161.87 L344.24,162.13 L343.93,162.35 L343.62,162.5 L343.32,162.6 L343.04,162.64 L342.78,162.62 L342.54,162.54" fill="none" stroke="#222" stroke-width="1.2" />
<path d="M327.08,147.8 L325.21,149.68 L325.44,152.61 L323.04,152.33 L321.5,154.6 L319.96,152.33 L317.56,152.61 L317.79,149.68 L315.92,147.8 L317.79,145.92 L317.56,142.99 L319.96,143.27 L321.5,141 L323.04,143.27 L325.44,142.99 L325.21,145.92Z" fill="#fff" stroke="#1a1a1a" stroke-width="1.3" />
<ellipse cx="322.3" cy="148.1" rx="3.2" ry="4.2" fill="none" stroke="#1a1a1a" stroke-width="1"/>
<ellipse cx="326.42" cy="147.8" rx="0.9" ry="0.9" fill="#333" stroke="#1a1a1a" stroke-width="0.8"/>
<ellipse cx="324.98" cy="152.04" rx="0.9" ry="0.9" fill="#333" stroke="#1a1a1a" stroke-width="0.8"/>
<ellipse cx="321.5" cy="153.8" rx="0.9" ry="0.9" fill="#333" stroke="#1a1a1a" stroke-width="0.8"/>
<ellipse cx="318.02" cy="152.04" rx="0.9" ry="0.9" fill="#333" stroke="#1a1a1a" stroke-width="0.8"/>
<ellipse cx="316.58" cy="147.8" rx="0.9" ry="0.9" fill="#333" stroke="#1a1a1a" stroke-width="0.8"/>
<ellipse cx="318.02" cy="143.56" rx="0.9" ry="0.9" fill="#333" stroke="#1a1a1a" stroke-width="0.8"/>
<ellipse cx="321.5" cy="141.8" rx="0.9" ry="0.9" fill="#333" stroke="#1a1a1a" stroke-width="0.8"/>
<ellipse cx="324.98" cy="143.56" rx="0.9" ry="0.9" fill="#333" stroke="#1a1a1a" stroke-width="0.8"/>
<path d="M355.6,172.5 L375.6,161.9 L405,178.75 L385.6,188.75 Z" fill="none" stroke="#1a1a1a" stroke-width="1.1" />
<path d="M357.5,175.2 L385.5,191.5" fill="none" stroke="#555" stroke-width="0.7" />
<path d="M355.6,172.5 L355.8,191.3 L362.8,188 L362.6,183.5 L379.5,193" fill="none" stroke="#1a1a1a" stroke-width="1.1" />
<path d="M358.2,176 L358.4,189.8" fill="none" stroke="#555" stroke-width="0.7" />
<path d="M363.5,180.5 L366.5,179.5 L371.5,182.3 L371.6,185.7 L366.3,183.5" fill="#999" stroke="#1a1a1a" stroke-width="0.9" />
<path d="M385.6,188.75 L387.5,220 C387.8,222 389,222.6 391,222.4 L397.5,220.5 L405.2,216.6 L408.75,216.5 L423,210 L422.5,186 L421.2,183.1 L406.25,188.75 L405,178.75" fill="none" stroke="#1a1a1a" stroke-width="1.1" />
<path d="M388.3,190.5 L390,218.5" fill="none" stroke="#555" stroke-width="0.7" />
<path d="M392.3,211.5 C391.5,213.8 393.5,214.3 395.5,213.3 L418.5,199 C420.3,197.6 419.6,195.4 417.5,196.4 L394,210.3Z" fill="none" stroke="#1a1a1a" stroke-width="1" />
<line x1="395.5" y1="211.3" x2="414" y2="200.5" stroke="#666" stroke-width="0.7" />
<line x1="391" y1="187.5" x2="392.5" y2="186.6" stroke="#555" stroke-width="1.1" />
<line x1="393.1" y1="186.4" x2="394.6" y2="185.5" stroke="#555" stroke-width="1.1" />
<line x1="395.2" y1="185.3" x2="396.7" y2="184.4" stroke="#555" stroke-width="1.1" />
<line x1="397.3" y1="184.2" x2="398.8" y2="183.3" stroke="#555" stroke-width="1.1" />
<line x1="399.4" y1="183.1" x2="400.9" y2="182.2" stroke="#555" stroke-width="1.1" />
<path d="M385.8,205 C381,208 376,214 374.6,219.5 C373.6,224.5 376.5,226.6 381,226.3 L391.3,226.3 L397.5,222.5" fill="none" stroke="#1a1a1a" stroke-width="1.1" />
<path d="M386.5,209.5 C382,212 378.5,216 377.6,220.5" fill="none" stroke="#555" stroke-width="0.7" />
<ellipse cx="380.6" cy="222.5" rx="2" ry="1.7" fill="#777" stroke="#1a1a1a" stroke-width="1"/>
<path d="M381.5,192.2 L337.8,218.8 L408,237" fill="none" stroke="#333" stroke-width="0.9" stroke-dasharray="2.6,2" stroke-linecap="butt"/>
<path d="M362.46,236.79 L347.46,229.59 L350.14,224.01 L365.14,231.21" fill="none" stroke="#1a1a1a" stroke-width="1.1" />
<ellipse cx="348.8" cy="226.8" rx="1.7" ry="3.1" fill="none" stroke="#1a1a1a" stroke-width="1.1" transform="rotate(25.64 348.8 226.8)"/>
<path d="M352.41,225.1 L352.6,225.22 L352.77,225.38 L352.9,225.59 L353,225.84 L353.07,226.12 L353.1,226.43 L353.11,226.77 L353.07,227.13 L353,227.5 L352.9,227.88 L352.77,228.26 L352.61,228.63 L352.42,228.99 L352.21,229.32 L351.98,229.64 L351.73,229.93 L351.47,230.18 L351.21,230.39 L350.94,230.56 L350.68,230.68 L350.42,230.75 L350.17,230.78 L349.94,230.76 L349.73,230.69" fill="none" stroke="#222" stroke-width="1" />
<path d="M354.69,226.19 L354.88,226.31 L355.04,226.47 L355.17,226.68 L355.27,226.93 L355.34,227.21 L355.38,227.53 L355.38,227.86 L355.34,228.22 L355.27,228.59 L355.17,228.97 L355.04,229.35 L354.88,229.72 L354.69,230.08 L354.48,230.42 L354.25,230.73 L354,231.02 L353.74,231.27 L353.48,231.48 L353.21,231.65 L352.95,231.77 L352.69,231.85 L352.45,231.87 L352.22,231.85 L352,231.78" fill="none" stroke="#222" stroke-width="1" />
<path d="M356.96,227.28 L357.15,227.4 L357.31,227.56 L357.44,227.77 L357.55,228.02 L357.62,228.3 L357.65,228.62 L357.65,228.96 L357.62,229.31 L357.55,229.68 L357.45,230.06 L357.31,230.44 L357.15,230.81 L356.96,231.17 L356.75,231.51 L356.52,231.82 L356.27,232.11 L356.02,232.36 L355.75,232.57 L355.49,232.74 L355.22,232.86 L354.97,232.94 L354.72,232.96 L354.49,232.94 L354.28,232.87" fill="none" stroke="#222" stroke-width="1" />
<path d="M359.23,228.37 L359.42,228.49 L359.58,228.65 L359.72,228.86 L359.82,229.11 L359.89,229.39 L359.92,229.71 L359.92,230.05 L359.89,230.4 L359.82,230.77 L359.72,231.15 L359.59,231.53 L359.42,231.9 L359.24,232.26 L359.02,232.6 L358.79,232.91 L358.55,233.2 L358.29,233.45 L358.03,233.66 L357.76,233.83 L357.5,233.95 L357.24,234.03 L356.99,234.05 L356.76,234.03 L356.55,233.96" fill="none" stroke="#222" stroke-width="1" />
<path d="M361.51,229.46 L361.69,229.58 L361.86,229.75 L361.99,229.95 L362.09,230.2 L362.16,230.49 L362.2,230.8 L362.2,231.14 L362.16,231.49 L362.09,231.86 L361.99,232.24 L361.86,232.62 L361.7,232.99 L361.51,233.35 L361.3,233.69 L361.07,234 L360.82,234.29 L360.56,234.54 L360.3,234.75 L360.03,234.92 L359.77,235.04 L359.51,235.12 L359.26,235.14 L359.03,235.12 L358.82,235.05" fill="none" stroke="#222" stroke-width="1" />
<path d="M363.78,230.55 L363.97,230.67 L364.13,230.84 L364.26,231.04 L364.36,231.29 L364.43,231.58 L364.47,231.89 L364.47,232.23 L364.43,232.59 L364.37,232.96 L364.26,233.33 L364.13,233.71 L363.97,234.08 L363.78,234.44 L363.57,234.78 L363.34,235.09 L363.09,235.38 L362.84,235.63 L362.57,235.84 L362.31,236.01 L362.04,236.13 L361.78,236.21 L361.54,236.24 L361.31,236.21 L361.09,236.14" fill="none" stroke="#222" stroke-width="1" />
<path d="M372.38,235.38 L369.53,240.84 L363.83,240.84 L360.98,235.38 L363.83,229.93 L369.53,229.93Z" fill="#fff" stroke="#1a1a1a" stroke-width="1.2" />
<path d="M363.98,229.98 L366.08,235.38 L363.98,240.78" fill="none" stroke="#1a1a1a" stroke-width="0.9" />
<path d="M366.08,235.38 L372.38,235.38" fill="none" stroke="#777" stroke-width="0.6" />
<ellipse cx="413" cy="240.2" rx="4.3" ry="5.6" fill="#fff" stroke="#1a1a1a" stroke-width="1.6" transform="rotate(25 413 240.2)"/>
<ellipse cx="413.8" cy="240.6" rx="3.6" ry="5" fill="none" stroke="#1a1a1a" stroke-width="0.9" transform="rotate(25 413.8 240.6)"/>
<ellipse cx="414" cy="240.8" rx="1.7" ry="2.4" fill="#888" stroke="#1a1a1a" stroke-width="1.2" transform="rotate(25 414 240.8)"/>
<path d="M436.87,256.67 L417.87,245.87 L421.13,240.13 L440.13,250.93" fill="none" stroke="#1a1a1a" stroke-width="1.1" />
<ellipse cx="419.5" cy="243" rx="1.7" ry="3.3" fill="none" stroke="#1a1a1a" stroke-width="1.1" transform="rotate(29.61 419.5 243)"/>
<path d="M423.34,241.39 L423.52,241.52 L423.67,241.7 L423.78,241.93 L423.86,242.19 L423.9,242.49 L423.91,242.82 L423.87,243.18 L423.8,243.55 L423.7,243.93 L423.56,244.32 L423.39,244.71 L423.19,245.1 L422.96,245.46 L422.71,245.81 L422.45,246.13 L422.17,246.42 L421.89,246.67 L421.6,246.88 L421.32,247.04 L421.04,247.16 L420.77,247.23 L420.52,247.24 L420.29,247.21 L420.08,247.12" fill="none" stroke="#222" stroke-width="1" />
<path d="M425.55,242.64 L425.73,242.78 L425.88,242.96 L425.99,243.18 L426.07,243.45 L426.11,243.75 L426.12,244.08 L426.08,244.43 L426.01,244.8 L425.91,245.19 L425.77,245.58 L425.6,245.97 L425.4,246.35 L425.17,246.72 L424.92,247.07 L424.66,247.39 L424.38,247.67 L424.1,247.92 L423.81,248.13 L423.52,248.3 L423.25,248.42 L422.98,248.48 L422.73,248.5 L422.49,248.47 L422.29,248.38" fill="none" stroke="#222" stroke-width="1" />
<path d="M427.76,243.9 L427.94,244.03 L428.09,244.21 L428.2,244.44 L428.28,244.7 L428.32,245 L428.33,245.33 L428.29,245.69 L428.22,246.06 L428.12,246.45 L427.98,246.84 L427.81,247.23 L427.61,247.61 L427.38,247.97 L427.13,248.32 L426.87,248.64 L426.59,248.93 L426.31,249.18 L426.02,249.39 L425.73,249.55 L425.45,249.67 L425.19,249.74 L424.94,249.76 L424.7,249.72 L424.5,249.64" fill="none" stroke="#222" stroke-width="1" />
<path d="M429.97,245.15 L430.15,245.29 L430.29,245.47 L430.41,245.69 L430.49,245.96 L430.53,246.26 L430.54,246.59 L430.5,246.94 L430.43,247.32 L430.33,247.7 L430.19,248.09 L430.02,248.48 L429.82,248.86 L429.59,249.23 L429.34,249.58 L429.08,249.9 L428.8,250.19 L428.52,250.44 L428.23,250.65 L427.94,250.81 L427.66,250.93 L427.4,251 L427.14,251.01 L426.91,250.98 L426.71,250.89" fill="none" stroke="#222" stroke-width="1" />
<path d="M432.18,246.41 L432.36,246.54 L432.5,246.73 L432.62,246.95 L432.7,247.21 L432.74,247.51 L432.74,247.84 L432.71,248.2 L432.64,248.57 L432.54,248.96 L432.4,249.35 L432.22,249.74 L432.02,250.12 L431.8,250.49 L431.55,250.83 L431.29,251.15 L431.01,251.44 L430.73,251.69 L430.44,251.9 L430.15,252.07 L429.87,252.18 L429.61,252.25 L429.35,252.27 L429.12,252.23 L428.92,252.15" fill="none" stroke="#222" stroke-width="1" />
<path d="M434.39,247.67 L434.57,247.8 L434.71,247.98 L434.83,248.21 L434.91,248.47 L434.95,248.77 L434.95,249.1 L434.92,249.45 L434.85,249.83 L434.75,250.21 L434.61,250.6 L434.43,250.99 L434.23,251.37 L434.01,251.74 L433.76,252.09 L433.5,252.41 L433.22,252.7 L432.94,252.95 L432.65,253.16 L432.36,253.32 L432.08,253.44 L431.81,253.51 L431.56,253.52 L431.33,253.49 L431.13,253.4" fill="none" stroke="#222" stroke-width="1" />
<path d="M436.6,248.92 L436.77,249.06 L436.92,249.24 L437.04,249.46 L437.12,249.73 L437.16,250.03 L437.16,250.36 L437.13,250.71 L437.06,251.08 L436.95,251.47 L436.81,251.86 L436.64,252.25 L436.44,252.63 L436.22,253 L435.97,253.34 L435.71,253.66 L435.43,253.95 L435.14,254.2 L434.86,254.41 L434.57,254.58 L434.29,254.7 L434.02,254.76 L433.77,254.78 L433.54,254.74 L433.33,254.66" fill="none" stroke="#222" stroke-width="1" />
<path d="M438.81,250.18 L438.98,250.31 L439.13,250.49 L439.25,250.72 L439.33,250.98 L439.37,251.28 L439.37,251.61 L439.34,251.97 L439.27,252.34 L439.16,252.72 L439.02,253.12 L438.85,253.5 L438.65,253.89 L438.43,254.25 L438.18,254.6 L437.92,254.92 L437.64,255.21 L437.35,255.46 L437.07,255.67 L436.78,255.83 L436.5,255.95 L436.23,256.02 L435.98,256.04 L435.75,256 L435.54,255.92" fill="none" stroke="#222" stroke-width="1" />
<path d="M447.46,255.38 L444.37,261.29 L438.19,261.29 L435.11,255.38 L438.19,249.47 L444.37,249.47Z" fill="#fff" stroke="#1a1a1a" stroke-width="1.2" />
<path d="M438.36,249.53 L440.63,255.38 L438.36,261.23" fill="none" stroke="#1a1a1a" stroke-width="0.9" />
<path d="M440.63,255.38 L447.46,255.38" fill="none" stroke="#777" stroke-width="0.6" />
<ellipse cx="432.5" cy="212.8" rx="3.6" ry="7.3" fill="none" stroke="#1a1a1a" stroke-width="1.1" transform="rotate(15 432.5 212.8)"/>
<path d="M433.4,205.5 L443.5,207.6 M431,220.3 L441.5,221.5" fill="none" stroke="#1a1a1a" stroke-width="1.1" />
<ellipse cx="442.5" cy="214.4" rx="3.8" ry="7.2" fill="none" stroke="#1a1a1a" stroke-width="1.1" transform="rotate(15 442.5 214.4)"/>
<ellipse cx="442.6" cy="214.5" rx="2" ry="4.3" fill="none" stroke="#1a1a1a" stroke-width="0.9" transform="rotate(15 442.6 214.5)"/>
<ellipse cx="461" cy="232" rx="14" ry="22" fill="none" stroke="#1a1a1a" stroke-width="1.2" transform="rotate(22 461 232)"/>
<ellipse cx="471" cy="232.3" rx="14.6" ry="21.6" fill="#fff" stroke="#1a1a1a" stroke-width="1.2" transform="rotate(22 471 232.3)"/>
<path d="M453,212.8 L465.5,210.5 M452,252.5 L466,254" fill="none" stroke="#1a1a1a" stroke-width="1.1" />
<line x1="482.68" y1="237.02" x2="478.42" y2="235.3" stroke="#1a1a1a" stroke-width="1.1" />
<line x1="481.87" y1="238.85" x2="477.88" y2="236.5" stroke="#1a1a1a" stroke-width="1.1" />
<line x1="480.93" y1="240.62" x2="477.27" y2="237.66" stroke="#1a1a1a" stroke-width="1.1" />
<line x1="479.89" y1="242.29" x2="476.6" y2="238.76" stroke="#1a1a1a" stroke-width="1.1" />
<line x1="478.75" y1="243.85" x2="475.86" y2="239.79" stroke="#1a1a1a" stroke-width="1.1" />
<line x1="477.52" y1="245.29" x2="475.06" y2="240.74" stroke="#1a1a1a" stroke-width="1.1" />
<line x1="476.22" y1="246.58" x2="474.23" y2="241.59" stroke="#1a1a1a" stroke-width="1.1" />
<line x1="474.87" y1="247.72" x2="473.35" y2="242.34" stroke="#1a1a1a" stroke-width="1.1" />
<line x1="473.47" y1="248.69" x2="472.46" y2="242.99" stroke="#1a1a1a" stroke-width="1.1" />
<line x1="472.05" y1="249.48" x2="471.54" y2="243.51" stroke="#1a1a1a" stroke-width="1.1" />
<line x1="470.61" y1="250.08" x2="470.62" y2="243.92" stroke="#1a1a1a" stroke-width="1.1" />
<line x1="469.18" y1="250.48" x2="469.7" y2="244.19" stroke="#1a1a1a" stroke-width="1.1" />
<line x1="467.77" y1="250.69" x2="468.8" y2="244.34" stroke="#1a1a1a" stroke-width="1.1" />
<line x1="466.39" y1="250.69" x2="467.93" y2="244.35" stroke="#1a1a1a" stroke-width="1.1" />
<line x1="465.07" y1="250.5" x2="467.08" y2="244.23" stroke="#1a1a1a" stroke-width="1.1" />
<line x1="463.81" y1="250.1" x2="466.28" y2="243.98" stroke="#1a1a1a" stroke-width="1.1" />
<line x1="462.63" y1="249.51" x2="465.53" y2="243.61" stroke="#1a1a1a" stroke-width="1.1" />
<line x1="461.54" y1="248.73" x2="464.84" y2="243.1" stroke="#1a1a1a" stroke-width="1.1" />
<line x1="460.55" y1="247.77" x2="464.22" y2="242.48" stroke="#1a1a1a" stroke-width="1.1" />
<line x1="459.68" y1="246.64" x2="463.67" y2="241.75" stroke="#1a1a1a" stroke-width="1.1" />
<line x1="458.93" y1="245.36" x2="463.2" y2="240.92" stroke="#1a1a1a" stroke-width="1.1" />
<line x1="458.31" y1="243.93" x2="462.82" y2="239.99" stroke="#1a1a1a" stroke-width="1.1" />
<line x1="457.84" y1="242.37" x2="462.53" y2="238.98" stroke="#1a1a1a" stroke-width="1.1" />
<line x1="457.51" y1="240.7" x2="462.33" y2="237.89" stroke="#1a1a1a" stroke-width="1.1" />
<line x1="457.32" y1="238.95" x2="462.22" y2="236.74" stroke="#1a1a1a" stroke-width="1.1" />
<line x1="457.29" y1="237.11" x2="462.22" y2="235.55" stroke="#1a1a1a" stroke-width="1.1" />
<line x1="457.4" y1="235.23" x2="462.3" y2="234.31" stroke="#1a1a1a" stroke-width="1.1" />
<line x1="457.67" y1="233.31" x2="462.49" y2="233.06" stroke="#1a1a1a" stroke-width="1.1" />
<line x1="458.08" y1="231.38" x2="462.76" y2="231.8" stroke="#1a1a1a" stroke-width="1.1" />
<line x1="458.63" y1="229.47" x2="463.13" y2="230.54" stroke="#1a1a1a" stroke-width="1.1" />
<line x1="459.32" y1="227.58" x2="463.58" y2="229.3" stroke="#1a1a1a" stroke-width="1.1" />
<line x1="460.13" y1="225.75" x2="464.12" y2="228.1" stroke="#1a1a1a" stroke-width="1.1" />
<line x1="461.07" y1="223.98" x2="464.73" y2="226.94" stroke="#1a1a1a" stroke-width="1.1" />
<line x1="462.11" y1="222.31" x2="465.4" y2="225.84" stroke="#1a1a1a" stroke-width="1.1" />
<line x1="463.25" y1="220.75" x2="466.14" y2="224.81" stroke="#1a1a1a" stroke-width="1.1" />
<line x1="464.48" y1="219.31" x2="466.94" y2="223.86" stroke="#1a1a1a" stroke-width="1.1" />
<line x1="465.78" y1="218.02" x2="467.77" y2="223.01" stroke="#1a1a1a" stroke-width="1.1" />
<line x1="467.13" y1="216.88" x2="468.65" y2="222.26" stroke="#1a1a1a" stroke-width="1.1" />
<line x1="468.53" y1="215.91" x2="469.54" y2="221.61" stroke="#1a1a1a" stroke-width="1.1" />
<line x1="469.95" y1="215.12" x2="470.46" y2="221.09" stroke="#1a1a1a" stroke-width="1.1" />
<line x1="471.39" y1="214.52" x2="471.38" y2="220.68" stroke="#1a1a1a" stroke-width="1.1" />
<line x1="472.82" y1="214.12" x2="472.3" y2="220.41" stroke="#1a1a1a" stroke-width="1.1" />
<line x1="474.23" y1="213.91" x2="473.2" y2="220.26" stroke="#1a1a1a" stroke-width="1.1" />
<line x1="475.61" y1="213.91" x2="474.07" y2="220.25" stroke="#1a1a1a" stroke-width="1.1" />
<line x1="476.93" y1="214.1" x2="474.92" y2="220.37" stroke="#1a1a1a" stroke-width="1.1" />
<line x1="478.19" y1="214.5" x2="475.72" y2="220.62" stroke="#1a1a1a" stroke-width="1.1" />
<line x1="479.37" y1="215.09" x2="476.47" y2="220.99" stroke="#1a1a1a" stroke-width="1.1" />
<line x1="480.46" y1="215.87" x2="477.16" y2="221.5" stroke="#1a1a1a" stroke-width="1.1" />
<line x1="481.45" y1="216.83" x2="477.78" y2="222.12" stroke="#1a1a1a" stroke-width="1.1" />
<line x1="482.32" y1="217.96" x2="478.33" y2="222.85" stroke="#1a1a1a" stroke-width="1.1" />
<line x1="483.07" y1="219.24" x2="478.8" y2="223.68" stroke="#1a1a1a" stroke-width="1.1" />
<line x1="483.69" y1="220.67" x2="479.18" y2="224.61" stroke="#1a1a1a" stroke-width="1.1" />
<line x1="484.16" y1="222.23" x2="479.47" y2="225.62" stroke="#1a1a1a" stroke-width="1.1" />
<line x1="484.49" y1="223.9" x2="479.67" y2="226.71" stroke="#1a1a1a" stroke-width="1.1" />
<line x1="484.68" y1="225.65" x2="479.78" y2="227.86" stroke="#1a1a1a" stroke-width="1.1" />
<line x1="484.71" y1="227.49" x2="479.78" y2="229.05" stroke="#1a1a1a" stroke-width="1.1" />
<line x1="484.6" y1="229.37" x2="479.7" y2="230.29" stroke="#1a1a1a" stroke-width="1.1" />
<line x1="484.33" y1="231.29" x2="479.51" y2="231.54" stroke="#1a1a1a" stroke-width="1.1" />
<line x1="483.92" y1="233.22" x2="479.24" y2="232.8" stroke="#1a1a1a" stroke-width="1.1" />
<line x1="483.37" y1="235.13" x2="478.87" y2="234.06" stroke="#1a1a1a" stroke-width="1.1" />
<ellipse cx="471" cy="232.3" rx="12.6" ry="19.2" fill="none" stroke="#1a1a1a" stroke-width="1" transform="rotate(22 471 232.3)"/>
<ellipse cx="471" cy="232.3" rx="8" ry="12.6" fill="#fff" stroke="#1a1a1a" stroke-width="1" transform="rotate(22 471 232.3)"/>
<ellipse cx="471" cy="232.3" rx="5.4" ry="8.4" fill="none" stroke="#1a1a1a" stroke-width="0.9" transform="rotate(22 471 232.3)"/>
<ellipse cx="471" cy="232.5" rx="2.6" ry="3.8" fill="#333" stroke="#1a1a1a" stroke-width="1" transform="rotate(22 471 232.5)"/>
<path d="M506.56,251.03 L501.75,257.77 L494.4,256.24 L491.84,247.97 L496.65,241.23 L504,242.76Z" fill="none" stroke="#1a1a1a" stroke-width="1.2" />
<ellipse cx="500.8" cy="249.8" rx="5" ry="6" fill="none" stroke="#1a1a1a" stroke-width="1" transform="rotate(20 500.8 249.8)"/>
<ellipse cx="501.2" cy="250" rx="2.8" ry="3.5" fill="#777" stroke="#1a1a1a" stroke-width="1.3" transform="rotate(20 501.2 250)"/>
<path d="M281.6,337.8 L284,339.6 L291.4,339.6 L296,338 L360.3,311.5 L364,303 L367,296.25 L371.25,285.3 L377.8,278.75 L386.6,278.75 L390.5,282 L389.8,289.7 L384.4,296.25 L383.3,301 L386.6,305.5 L394.2,306.5 L399.7,301 L404,289.7 L402.5,278 L401.9,252.5 L397.5,246 L391,244.2 L375.6,247 L371.25,250.3 L371.25,255.8 L366.9,265.6 L358.1,273.3 L347.2,277.7 L310,284.2 L305.6,287.5Z" fill="none" stroke="#1a1a1a" stroke-width="1.2" />
<path d="M287.5,334.5 L310.8,290.8 L348.3,284 L361,278.5 L369.5,270.5 L373.5,262" fill="none" stroke="#1a1a1a" stroke-width="1" />
<path d="M296,332.5 L360,306 L365.5,294" fill="none" stroke="#1a1a1a" stroke-width="0.9" />
<path d="M318.8,290.8 L318.8,297.5" fill="none" stroke="#1a1a1a" stroke-width="1.2" />
<path d="M303.4,321.4 L360.3,298.4" fill="none" stroke="#1a1a1a" stroke-width="1" />
<path d="M303.4,323.8 L337,316 L354.5,312.3 L361.5,302" fill="none" stroke="#1a1a1a" stroke-width="0.9" />
<path d="M338.5,314.5 L360,294.5" fill="none" stroke="#1a1a1a" stroke-width="1" />
<path d="M347.5,285 L347.8,291" fill="none" stroke="#1a1a1a" stroke-width="0.9" />
<path d="M374.4,250.5 C375,247.13 378.17,248.2 379.5,248.2 C380.83,248.2 383.67,247.19 384.4,250.5 C385.13,253.81 385.59,269.47 385,273 C384.41,276.53 381.33,276.93 380,277 C378.67,277.07 375.75,277.03 375,273.5 C374.25,269.97 373.8,253.87 374.4,250.5Z" fill="none" stroke="#1a1a1a" stroke-width="1.1" />
<path d="M389.5,248.6 C390.06,244.8 393.53,246.31 395,246.5 C396.47,246.69 399.67,246.33 400.5,250 C401.33,253.67 401.8,270.27 401.2,274 C400.6,277.73 397.39,277.87 396,278 C394.61,278.13 391.67,278.92 390.8,275 C389.93,271.08 388.94,252.4 389.5,248.6Z" fill="none" stroke="#1a1a1a" stroke-width="1.1" />
<path d="M384.4,254 L389.5,252 M385,267 L390.8,265.5" fill="none" stroke="#1a1a1a" stroke-width="0.9" />
<path d="M386.5,268 L388,279 M392,279 L396,300" fill="none" stroke="#444" stroke-width="0.8" />
<ellipse cx="291.4" cy="334.5" rx="2.7" ry="2.97" fill="none" stroke="#1a1a1a" stroke-width="1.1"/>
<ellipse cx="291.4" cy="334.5" rx="1.62" ry="1.76" fill="#555" stroke="#1a1a1a" stroke-width="0.8"/>
<ellipse cx="312.2" cy="296.25" rx="3" ry="3.3" fill="none" stroke="#1a1a1a" stroke-width="1.1"/>
<ellipse cx="312.2" cy="296.25" rx="1.8" ry="1.95" fill="#555" stroke="#1a1a1a" stroke-width="0.8"/>
<ellipse cx="362.5" cy="290.8" rx="2.8" ry="3.08" fill="none" stroke="#1a1a1a" stroke-width="1.1"/>
<ellipse cx="362.5" cy="290.8" rx="1.68" ry="1.82" fill="#555" stroke="#1a1a1a" stroke-width="0.8"/>
<ellipse cx="379.6" cy="255.8" rx="2.8" ry="3.08" fill="none" stroke="#1a1a1a" stroke-width="1.1"/>
<ellipse cx="379.6" cy="255.8" rx="1.68" ry="1.82" fill="#555" stroke="#1a1a1a" stroke-width="0.8"/>
<ellipse cx="394.2" cy="252.5" rx="2.8" ry="3.08" fill="none" stroke="#1a1a1a" stroke-width="1.1"/>
<ellipse cx="394.2" cy="252.5" rx="1.68" ry="1.82" fill="#555" stroke="#1a1a1a" stroke-width="0.8"/>
<ellipse cx="380" cy="268.9" rx="2.7" ry="2.97" fill="none" stroke="#1a1a1a" stroke-width="1.1"/>
<ellipse cx="380" cy="268.9" rx="1.62" ry="1.76" fill="#555" stroke="#1a1a1a" stroke-width="0.8"/>
<ellipse cx="395.3" cy="271.1" rx="2.7" ry="2.97" fill="none" stroke="#1a1a1a" stroke-width="1.1"/>
<ellipse cx="395.3" cy="271.1" rx="1.62" ry="1.76" fill="#555" stroke="#1a1a1a" stroke-width="0.8"/>
<ellipse cx="388.75" cy="300.6" rx="3" ry="3.3" fill="none" stroke="#1a1a1a" stroke-width="1.1"/>
<ellipse cx="388.75" cy="300.6" rx="1.8" ry="1.95" fill="#555" stroke="#1a1a1a" stroke-width="0.8"/>
<path d="M251.04,316.89 L277.14,328.49 L280.06,321.91 L253.96,310.31Z" fill="none" stroke="#1a1a1a" stroke-width="1" />
<ellipse cx="252.5" cy="313.6" rx="1.6" ry="3.6" fill="none" stroke="#1a1a1a" stroke-width="1" transform="rotate(23.96 252.5 313.6)"/>
<ellipse cx="278.6" cy="325.2" rx="1.6" ry="3.6" fill="none" stroke="#1a1a1a" stroke-width="1" transform="rotate(23.96 278.6 325.2)"/>
<line x1="253.21" y1="317.86" x2="257.51" y2="311.89" stroke="#1a1a1a" stroke-width="1" />
<line x1="255.39" y1="318.82" x2="259.68" y2="312.85" stroke="#1a1a1a" stroke-width="1" />
<line x1="257.56" y1="319.79" x2="261.86" y2="313.82" stroke="#1a1a1a" stroke-width="1" />
<line x1="259.74" y1="320.76" x2="264.03" y2="314.79" stroke="#1a1a1a" stroke-width="1" />
<line x1="261.91" y1="321.72" x2="266.21" y2="315.75" stroke="#1a1a1a" stroke-width="1" />
<line x1="268.44" y1="324.62" x2="272.73" y2="318.65" stroke="#1a1a1a" stroke-width="1" />
<line x1="270.61" y1="325.59" x2="274.91" y2="319.62" stroke="#1a1a1a" stroke-width="1" />
<line x1="272.79" y1="326.56" x2="277.08" y2="320.59" stroke="#1a1a1a" stroke-width="1" />
<line x1="274.96" y1="327.52" x2="279.26" y2="321.55" stroke="#1a1a1a" stroke-width="1" />
<ellipse cx="308.8" cy="344.2" rx="5" ry="6.2" fill="#fff" stroke="#1a1a1a" stroke-width="1.6" transform="rotate(30 308.8 344.2)"/>
<ellipse cx="309.6" cy="344.6" rx="4.2" ry="5.6" fill="none" stroke="#1a1a1a" stroke-width="0.9" transform="rotate(30 309.6 344.6)"/>
<ellipse cx="309.7" cy="344.7" rx="1.9" ry="2.6" fill="#888" stroke="#1a1a1a" stroke-width="1.2" transform="rotate(30 309.7 344.7)"/>
<path d="M328.68,354.04 L324.16,359.06 L317.97,357.22 L316.32,350.36 L320.84,345.34 L327.03,347.18Z" fill="none" stroke="#1a1a1a" stroke-width="1.2" />
<ellipse cx="322.8" cy="352.6" rx="3.6" ry="4.1" fill="none" stroke="#1a1a1a" stroke-width="1"/>
<ellipse cx="323" cy="352.8" rx="1.8" ry="2.1" fill="#999" stroke="#1a1a1a" stroke-width="1"/>
<ellipse cx="363.5" cy="323.6" rx="5.2" ry="6.3" fill="#fff" stroke="#1a1a1a" stroke-width="1.6" transform="rotate(25 363.5 323.6)"/>
<ellipse cx="364.4" cy="324" rx="4.4" ry="5.7" fill="none" stroke="#1a1a1a" stroke-width="0.9" transform="rotate(25 364.4 324)"/>
<ellipse cx="364.6" cy="324.1" rx="2" ry="2.7" fill="#888" stroke="#1a1a1a" stroke-width="1.2" transform="rotate(25 364.6 324.1)"/>
<path d="M386.69,342.38 L369.19,331.38 L372.81,325.62 L390.31,336.62" fill="none" stroke="#1a1a1a" stroke-width="1.1" />
<ellipse cx="371" cy="328.5" rx="1.7" ry="3.4" fill="none" stroke="#1a1a1a" stroke-width="1.1" transform="rotate(32.15 371 328.5)"/>
<path d="M375.11,327.07 L375.28,327.21 L375.42,327.4 L375.53,327.63 L375.59,327.91 L375.61,328.21 L375.6,328.55 L375.55,328.91 L375.45,329.29 L375.32,329.68 L375.16,330.08 L374.97,330.47 L374.74,330.85 L374.49,331.22 L374.22,331.57 L373.94,331.88 L373.64,332.17 L373.34,332.42 L373.04,332.62 L372.74,332.78 L372.46,332.89 L372.18,332.95 L371.93,332.96 L371.7,332.92 L371.49,332.83" fill="none" stroke="#222" stroke-width="1" />
<path d="M377.41,328.52 L377.59,328.66 L377.73,328.85 L377.83,329.08 L377.89,329.35 L377.92,329.66 L377.9,330 L377.85,330.36 L377.76,330.74 L377.63,331.13 L377.46,331.52 L377.27,331.92 L377.04,332.3 L376.8,332.67 L376.53,333.01 L376.24,333.33 L375.95,333.62 L375.65,333.86 L375.34,334.07 L375.05,334.23 L374.76,334.34 L374.48,334.4 L374.23,334.41 L374,334.37 L373.8,334.27" fill="none" stroke="#222" stroke-width="1" />
<path d="M379.72,329.96 L379.89,330.11 L380.03,330.3 L380.13,330.53 L380.19,330.8 L380.22,331.11 L380.21,331.45 L380.15,331.81 L380.06,332.19 L379.93,332.58 L379.77,332.97 L379.57,333.36 L379.35,333.75 L379.1,334.11 L378.83,334.46 L378.55,334.78 L378.25,335.06 L377.95,335.31 L377.65,335.52 L377.35,335.68 L377.06,335.79 L376.79,335.85 L376.53,335.86 L376.3,335.81 L376.1,335.72" fill="none" stroke="#222" stroke-width="1" />
<path d="M382.02,331.41 L382.19,331.55 L382.33,331.74 L382.43,331.98 L382.5,332.25 L382.52,332.56 L382.51,332.89 L382.45,333.25 L382.36,333.63 L382.23,334.02 L382.07,334.42 L381.87,334.81 L381.65,335.19 L381.4,335.56 L381.13,335.91 L380.85,336.23 L380.55,336.51 L380.25,336.76 L379.95,336.96 L379.65,337.12 L379.36,337.23 L379.09,337.3 L378.84,337.3 L378.6,337.26 L378.4,337.17" fill="none" stroke="#222" stroke-width="1" />
<path d="M384.32,332.86 L384.49,333 L384.63,333.19 L384.74,333.42 L384.8,333.7 L384.82,334 L384.81,334.34 L384.76,334.7 L384.66,335.08 L384.54,335.47 L384.37,335.87 L384.18,336.26 L383.95,336.64 L383.7,337.01 L383.44,337.36 L383.15,337.67 L382.85,337.96 L382.55,338.21 L382.25,338.41 L381.95,338.57 L381.67,338.68 L381.39,338.74 L381.14,338.75 L380.91,338.71 L380.7,338.62" fill="none" stroke="#222" stroke-width="1" />
<path d="M386.63,334.31 L386.8,334.45 L386.94,334.64 L387.04,334.87 L387.1,335.14 L387.13,335.45 L387.11,335.79 L387.06,336.15 L386.97,336.53 L386.84,336.92 L386.67,337.31 L386.48,337.71 L386.26,338.09 L386.01,338.46 L385.74,338.8 L385.45,339.12 L385.16,339.41 L384.86,339.65 L384.55,339.86 L384.26,340.02 L383.97,340.13 L383.69,340.19 L383.44,340.2 L383.21,340.16 L383.01,340.06" fill="none" stroke="#222" stroke-width="1" />
<path d="M388.93,335.75 L389.1,335.9 L389.24,336.09 L389.34,336.32 L389.41,336.59 L389.43,336.9 L389.42,337.24 L389.36,337.6 L389.27,337.98 L389.14,338.37 L388.98,338.76 L388.78,339.15 L388.56,339.54 L388.31,339.9 L388.04,340.25 L387.76,340.57 L387.46,340.85 L387.16,341.1 L386.86,341.31 L386.56,341.47 L386.27,341.58 L386,341.64 L385.74,341.65 L385.51,341.6 L385.31,341.51" fill="none" stroke="#222" stroke-width="1" />
<path d="M397.86,341.2 L394.53,347.57 L387.88,347.57 L384.56,341.2 L387.88,334.84 L394.53,334.84Z" fill="#fff" stroke="#1a1a1a" stroke-width="1.2" />
<path d="M388.06,334.9 L390.51,341.2 L388.06,347.5" fill="none" stroke="#1a1a1a" stroke-width="0.9" />
<path d="M390.51,341.2 L397.86,341.2" fill="none" stroke="#777" stroke-width="0.6" />
<path d="M321.8,432.6 C321.83,429.45 321.94,413.68 322.5,410 C323.06,406.32 324.53,406.33 326,405 C327.47,403.67 331.42,401.73 333.5,400 C335.58,398.27 339.89,393.96 341.6,392 C343.31,390.04 345.05,386.1 346.3,385.3 C347.55,384.5 349.31,385.64 351,386 C352.69,386.36 355.28,386.32 359,388 C362.72,389.68 374.13,394 378.9,398.6 C383.67,403.2 394.65,416.31 394.8,422.5 C394.95,428.69 385.31,440.75 380,445 C374.69,449.25 359.44,453.48 355,454.4 C350.56,455.32 351.06,454.67 346.7,451.9 C342.34,449.13 325.62,436.17 322.3,433.6 C318.98,431.03 321.77,435.75 321.8,432.6Z" fill="#fff" stroke="#1a1a1a" stroke-width="1.2" />
<path d="M341.6,392 C341.5,387 344,385 347,385.2" fill="none" stroke="#1a1a1a" stroke-width="1" />
<path d="M345.6,392 L361.6,404 M347,396.5 L360,404.5 M337.7,410.6 L352.3,418.5 M336.5,410.2 L351.8,419.4" fill="none" stroke="#1a1a1a" stroke-width="0.9" />
<path d="M351,386 C354,387.5 355.5,390 355.5,392.5 L345.5,398" fill="none" stroke="#1a1a1a" stroke-width="0.9" />
<path d="M359,388 L378.9,398.6" fill="none" stroke="#1a1a1a" stroke-width="0.9" />
<path d="M324.4,410.2 C326,418 324,426 321.8,432.6 M328,410 C329.5,418 327,428 325.5,434.5" fill="none" stroke="#1a1a1a" stroke-width="0.9" />
<path d="M322.3,433.6 L350.8,449.8 M329.5,434.5 L344.5,442.5 M328.5,437 L343.5,445 M326,439 L347,450.5" fill="none" stroke="#1a1a1a" stroke-width="0.9" />
<path d="M325.6,408 C326.5,401.5 330,397.3 334,397.3 C336.5,397.2 338.5,398 340,399.5" fill="#fff" stroke="#1a1a1a" stroke-width="1.1" />
<path d="M327.5,405 C329,401.5 331.5,400 334,400.3" fill="none" stroke="#1a1a1a" stroke-width="0.9" />
<path d="M331.9,406.5 L345,395.5 M334.6,408.8 L346.5,398.8" fill="none" stroke="#1a1a1a" stroke-width="1.1" />
<path d="M330,404 L333.5,401" fill="none" stroke="#333" stroke-width="1.4" />
<path d="M319.5,408.2 C313,409 309.2,414 309.5,420 C310,425 314,428.5 319.5,428.5" fill="#fff" stroke="#1a1a1a" stroke-width="1.2" />
<path d="M310.3,422 C311.5,426 314.5,428 318.5,428.3" fill="none" stroke="#333" stroke-width="2" />
<path d="M317,411.5 C313.5,413.5 312.5,418.5 313.5,422.5" fill="none" stroke="#1a1a1a" stroke-width="0.9" />
<path d="M319.5,408.2 C322,408.5 323.5,410 323.8,411.5 M319.5,428.5 L323.5,429" fill="none" stroke="#1a1a1a" stroke-width="1" />
<path d="M320.3,415.5 C321.8,416.3 322.1,419 320.8,420.6" fill="none" stroke="#1a1a1a" stroke-width="0.9" />
<path d="M325.6,409.4 C324.5,417 324.2,425 324.4,432.5 M331.25,410.6 C329,418 327.5,426 327.5,433.5" fill="none" stroke="#1a1a1a" stroke-width="1.1" />
<path d="M326,406.5 L331.5,404.5" fill="none" stroke="#1a1a1a" stroke-width="1" />
<path d="M348.3,435.8 C348.38,431.63 349.45,427.2 351,423 C352.55,418.8 355.1,413.93 357.6,410.6 C360.1,407.27 362.9,404.77 366,403 C369.1,401.23 372.5,400.28 376.2,400 C379.9,399.72 385.32,399.53 388.2,401.3 C391.08,403.07 392.4,407.07 393.5,410.6 C394.6,414.13 395.05,418.77 394.8,422.5 C394.55,426.23 394.47,429.25 392,433 C389.53,436.75 384.33,441.83 380,445 C375.67,448.17 370.17,450.43 366,452 C361.83,453.57 357.58,455.07 355,454.4 C352.42,453.73 351.62,451.1 350.5,448 C349.38,444.9 348.22,439.97 348.3,435.8Z" fill="#fff" stroke="#1a1a1a" stroke-width="1.3" />
<path d="M351.3,436 C351.75,434 352.55,427.92 354,424 C355.45,420.08 357.75,415.58 360,412.5 C362.25,409.42 364.75,407.12 367.5,405.5 C370.25,403.88 373.08,403.05 376.5,402.8 C379.92,402.55 385.5,402.55 388,404 C390.5,405.45 390.92,410.25 391.5,411.5" fill="none" stroke="#555" stroke-width="0.7" />
<ellipse cx="376.2" cy="410.6" rx="2.3" ry="3" fill="none" stroke="#1a1a1a" stroke-width="1.1" transform="rotate(20 376.2 410.6)"/>
<ellipse cx="387.5" cy="412.6" rx="2.3" ry="3" fill="none" stroke="#1a1a1a" stroke-width="1.1" transform="rotate(20 387.5 412.6)"/>
<ellipse cx="359.6" cy="433.2" rx="2.3" ry="3" fill="none" stroke="#1a1a1a" stroke-width="1.1" transform="rotate(20 359.6 433.2)"/>
<path d="M366.2,443.8 C365,436 366,428 374.9,418.5 C381,416 388,418 392.2,422.5" fill="none" stroke="#1a1a1a" stroke-width="1" />
<path d="M388,427.9 L373.5,437.2 C371,440 369.5,444 369,447" fill="none" stroke="#1a1a1a" stroke-width="0.9" />
<path d="M370.5,446 C369,450 369.5,456 373,461 C375,464 379.5,464 380,460 L380,448 C380,443 372,442 370.5,446Z" fill="#fff" stroke="#1a1a1a" stroke-width="1" />
<path d="M372.5,448.5 C371.5,452 372.5,456 374.5,458.5 C376,460 377.5,459 377.5,457 L377.5,450 C377.5,447 373.5,446.5 372.5,448.5Z" fill="none" stroke="#1a1a1a" stroke-width="0.8" />
<ellipse cx="363.6" cy="451.8" rx="2.2" ry="2" fill="#fff" stroke="#1a1a1a" stroke-width="1.1"/>
<path d="M360.5,449.5 L365.5,454" fill="none" stroke="#1a1a1a" stroke-width="0.9" />
<ellipse cx="404" cy="452.8" rx="25.5" ry="37.5" fill="#fff" stroke="#1a1a1a" stroke-width="1.3" transform="rotate(20 404 452.8)"/>
<ellipse cx="407.5" cy="452.2" rx="25.5" ry="37.5" fill="#fff" stroke="#444" stroke-width="0.8" transform="rotate(20 407.5 452.2)"/>
<ellipse cx="411" cy="451.5" rx="25.5" ry="37.5" fill="#fff" stroke="#1a1a1a" stroke-width="1.3" transform="rotate(20 411 451.5)"/>
<ellipse cx="413" cy="452.2" rx="18" ry="27.2" fill="none" stroke="#1a1a1a" stroke-width="1.1" transform="rotate(20 413 452.2)"/>
<ellipse cx="412.2" cy="452.5" rx="21.8" ry="32.5" fill="none" stroke="#777" stroke-width="0.6" transform="rotate(20 412.2 452.5)"/>
<path d="M409.3,444.3 L420.5,449.8 M411.8,458 L423,463.5" fill="none" stroke="#1a1a1a" stroke-width="1.1" />
<ellipse cx="410.5" cy="451.2" rx="3.4" ry="7" fill="#fff" stroke="#1a1a1a" stroke-width="1.2" transform="rotate(22 410.5 451.2)"/>
<path d="M415.72,445.96 L416.11,446.18 L416.45,446.51 L416.73,446.94 L416.95,447.47 L417.1,448.08 L417.18,448.76 L417.2,449.51 L417.14,450.31 L417.02,451.14 L416.82,452 L416.57,452.87 L416.25,453.72 L415.88,454.56 L415.47,455.36 L415.01,456.11 L414.52,456.8 L414,457.41 L413.47,457.94 L412.94,458.37 L412.41,458.71 L411.88,458.93 L411.38,459.05 L410.91,459.05 L410.48,458.94" fill="none" stroke="#222" stroke-width="1.1" />
<path d="M418.32,447.21 L418.71,447.43 L419.05,447.76 L419.33,448.19 L419.55,448.72 L419.7,449.33 L419.78,450.01 L419.8,450.76 L419.74,451.56 L419.62,452.39 L419.42,453.25 L419.17,454.12 L418.85,454.97 L418.48,455.81 L418.07,456.61 L417.61,457.36 L417.12,458.05 L416.6,458.66 L416.07,459.19 L415.54,459.62 L415.01,459.96 L414.48,460.18 L413.98,460.3 L413.51,460.3 L413.08,460.19" fill="none" stroke="#222" stroke-width="1.1" />
<path d="M420.92,448.46 L421.31,448.68 L421.65,449.01 L421.93,449.44 L422.15,449.97 L422.3,450.58 L422.38,451.26 L422.4,452.01 L422.34,452.81 L422.22,453.64 L422.02,454.5 L421.77,455.37 L421.45,456.22 L421.08,457.06 L420.67,457.86 L420.21,458.61 L419.72,459.3 L419.2,459.91 L418.67,460.44 L418.14,460.87 L417.61,461.21 L417.08,461.43 L416.58,461.55 L416.11,461.55 L415.68,461.44" fill="none" stroke="#222" stroke-width="1.1" />
<ellipse cx="421.8" cy="456.8" rx="3.6" ry="6.2" fill="#fff" stroke="#1a1a1a" stroke-width="1.6" transform="rotate(22 421.8 456.8)"/>
<ellipse cx="422.3" cy="457.2" rx="1.8" ry="3.2" fill="none" stroke="#1a1a1a" stroke-width="0.9" transform="rotate(22 422.3 457.2)"/>
<path d="M511.45,394.75 L512.05,394.95 L512.63,395.17 L513.2,395.4 L513.75,395.65 L514.3,395.9 L514.83,396.17 L515.35,396.45 L515.85,396.75 L516.35,397.05 L516.83,397.37 L517.3,397.7 L517.75,398.05 L518.2,398.4 L518.63,398.77 L519.05,399.15 L519.45,399.55 L519.85,399.95 L520.22,400.37 L520.58,400.79 L520.93,401.23 L521.25,401.68 L521.56,402.13 L521.86,402.6 L522.13,403.07 L522.39,403.55 L522.63,404.05 L522.86,404.55 L523.07,405.07 L523.26,405.59 L523.44,406.12 L523.6,406.67 L523.74,407.22 L523.86,407.78 L523.97,408.36 L524.07,408.96 L524.16,409.57 L524.23,410.21 L524.28,410.86 L524.33,411.53 L524.35,412.21 L524.37,412.91 L524.37,413.63 L524.36,414.37 L524.34,415.13 L524.3,415.9 L524.24,416.69 L524.18,417.5 L524.1,418.33 L524,419.17 L523.86,420.06 L523.66,420.99 L523.4,421.96 L523.09,422.98 L522.73,424.04 L522.32,425.14 L521.85,426.28 L521.33,427.47 L520.75,428.7 L520.12,429.97 L519.44,431.29 L518.7,432.65 L517.91,434.05 L517.07,435.5 L516.18,436.98 L515.23,438.52 L514.17,440.19 L513,441.99 L511.72,443.94 L510.34,446.03 L508.84,448.25 L507.24,450.62 L505.52,453.12 L503.7,455.76 L501.77,458.54 L499.73,461.46 L497.58,464.51 L495.32,467.71 L492.96,471.04 L490.48,474.51 L487.9,478.12 L485.2,481.88 L482.64,485.42 L480.22,488.77 L477.92,491.92 L475.76,494.86 L473.73,497.61 L471.84,500.15 L470.08,502.49 L468.45,504.63 L466.95,506.57 L465.59,508.31 L464.36,509.85 L463.27,511.18 L462.31,512.32 L461.48,513.25 L460.78,513.98 L460.22,514.52 L459.64,515.02 L459.05,515.51 L458.44,515.97 L457.81,516.41 L457.17,516.82 L456.52,517.21 L455.84,517.58 L455.16,517.92 L454.45,518.24 L453.73,518.54 L453,518.81 L452.25,519.06 L451.48,519.29 L450.7,519.49 L449.91,519.67 L449.09,519.83 L448.29,519.95 L447.49,520.05 L446.69,520.11 L445.9,520.14 L445.12,520.14 L444.34,520.11 L443.57,520.05 L442.8,519.95 L442.04,519.83 L441.29,519.67 L440.54,519.48 L439.8,519.27 L439.06,519.02 L438.33,518.73 L437.61,518.42 L436.89,518.08 L436.2,517.71 L435.54,517.31 L434.9,516.88 L434.3,516.43 L433.72,515.95 L433.17,515.44 L432.65,514.91 L432.15,514.34 L431.69,513.75 L431.25,513.14 L430.84,512.49 L430.46,511.82 L430.11,511.12 L429.78,510.39 L429.48,509.64 L429.22,508.86 L428.97,508.07 L428.75,507.29 L428.55,506.49 L428.37,505.7 L428.22,504.89 L428.09,504.09 L427.98,503.28 L427.9,502.47 L427.83,501.65 L427.8,500.83 L427.78,500.01 L427.79,499.18 L427.82,498.35 L427.87,497.51 L427.95,496.67 L428.05,495.83 L428.16,495 L428.28,494.19 L428.41,493.39 L428.55,492.61 L428.7,491.84 L428.86,491.09 L429.03,490.36 L429.22,489.64 L429.41,488.94 L429.61,488.25 L429.82,487.58 L430.04,486.92 L430.27,486.28 L430.52,485.66 L430.77,485.05 L431.03,484.45 L431.47,483.63 L432.08,482.58 L432.87,481.31 L433.84,479.8 L434.98,478.07 L436.3,476.11 L437.79,473.92 L439.46,471.5 L441.3,468.86 L443.32,465.99 L445.52,462.89 L447.89,459.56 L450.44,456.01 L453.16,452.23 L456.06,448.22 L459.14,443.98 L462.07,439.96 L464.85,436.15 L467.49,432.56 L469.98,429.18 L472.32,426.02 L474.52,423.08 L476.57,420.35 L478.48,417.83 L480.24,415.53 L481.85,413.44 L483.32,411.57 L484.64,409.92 L485.82,408.48 L486.85,407.26 L487.73,406.25 L488.47,405.45 L489.21,404.68 L489.96,403.94 L490.71,403.22 L491.47,402.53 L492.23,401.86 L492.99,401.22 L493.76,400.6 L494.54,400 L495.32,399.43 L496.1,398.89 L496.89,398.37 L497.68,397.88 L498.48,397.41 L499.29,396.97 L500.09,396.55 L500.91,396.15 L501.71,395.8 L502.49,395.48 L503.26,395.2 L504.02,394.95 L504.76,394.75 L505.49,394.58 L506.21,394.45 L506.91,394.35 L507.6,394.3 L508.28,394.28 L508.94,394.3 L509.59,394.35 L510.22,394.45 L510.85,394.58Z" fill="none" stroke="#1a1a1a" stroke-width="1.2" />
<path d="M511.82,399.8 L512.17,400 L512.51,400.21 L512.84,400.44 L513.16,400.69 L513.47,400.95 L513.76,401.22 L514.05,401.51 L514.32,401.82 L514.58,402.13 L514.83,402.47 L515.07,402.82 L515.3,403.18 L515.52,403.56 L515.73,403.95 L515.93,404.36 L516.11,404.78 L516.29,405.22 L516.45,405.68 L516.6,406.17 L516.74,406.68 L516.86,407.22 L516.98,407.79 L517.08,408.38 L517.16,408.99 L517.24,409.63 L517.3,410.3 L517.35,410.99 L517.39,411.71 L517.41,412.45 L517.43,413.22 L517.43,414.01 L517.41,414.83 L517.39,415.67 L517.31,416.57 L517.17,417.53 L516.98,418.54 L516.73,419.61 L516.42,420.74 L516.06,421.92 L515.65,423.16 L515.18,424.46 L514.65,425.81 L514.07,427.22 L513.43,428.69 L512.73,430.21 L511.98,431.79 L511.17,433.43 L510.31,435.12 L509.39,436.88 L508.36,438.75 L507.21,440.75 L505.95,442.88 L504.57,445.12 L503.07,447.5 L501.47,450 L499.74,452.62 L497.91,455.38 L495.95,458.25 L493.89,461.25 L491.7,464.38 L489.41,467.62 L487,471 L484.47,474.5 L481.83,478.12 L479.07,481.88 L476.46,485.41 L473.99,488.72 L471.66,491.82 L469.48,494.7 L467.44,497.36 L465.54,499.8 L463.79,502.02 L462.18,504.03 L460.72,505.82 L459.39,507.39 L458.21,508.74 L457.18,509.87 L456.29,510.79 L455.54,511.49 L454.93,511.97 L454.47,512.23 L454,512.48 L453.53,512.71 L453.06,512.93 L452.58,513.14 L452.09,513.33 L451.6,513.51 L451.11,513.68 L450.61,513.83 L450.11,513.96 L449.61,514.08 L449.1,514.19 L448.58,514.28 L448.07,514.36 L447.54,514.43 L447.02,514.48 L446.48,514.52 L445.96,514.53 L445.45,514.52 L444.96,514.49 L444.47,514.44 L443.99,514.36 L443.53,514.26 L443.07,514.14 L442.63,513.99 L442.2,513.82 L441.77,513.63 L441.36,513.41 L440.96,513.17 L440.57,512.91 L440.2,512.62 L439.83,512.32 L439.47,511.98 L439.13,511.63 L438.8,511.25 L438.48,510.85 L438.17,510.42 L437.87,509.96 L437.59,509.49 L437.32,508.99 L437.06,508.46 L436.81,507.91 L436.58,507.34 L436.35,506.74 L436.14,506.12 L435.94,505.47 L435.76,504.8 L435.58,504.11 L435.42,503.39 L435.27,502.68 L435.14,501.96 L435.03,501.26 L434.93,500.55 L434.85,499.86 L434.79,499.16 L434.74,498.47 L434.71,497.78 L434.69,497.1 L434.7,496.42 L434.71,495.74 L434.75,495.07 L434.8,494.4 L434.87,493.74 L434.95,493.08 L435.05,492.42 L435.16,491.76 L435.28,491.09 L435.41,490.41 L435.55,489.73 L435.7,489.04 L435.86,488.34 L436.03,487.64 L436.22,486.93 L436.41,486.22 L436.61,485.49 L436.82,484.76 L437.04,484.03 L437.27,483.29 L437.52,482.54 L437.77,481.78 L438.03,481.02 L438.44,480.09 L438.99,479 L439.69,477.74 L440.53,476.31 L441.51,474.72 L442.65,472.96 L443.92,471.03 L445.34,468.94 L446.91,466.69 L448.62,464.26 L450.47,461.67 L452.47,458.92 L454.61,456 L456.9,452.91 L459.34,449.66 L461.91,446.24 L464.38,442.98 L466.72,439.87 L468.95,436.92 L471.05,434.13 L473.05,431.5 L474.92,429.02 L476.68,426.7 L478.32,424.53 L479.84,422.52 L481.25,420.67 L482.54,418.97 L483.71,417.43 L484.77,416.05 L485.7,414.83 L486.52,413.76 L487.23,412.84 L487.92,411.97 L488.59,411.13 L489.26,410.32 L489.91,409.55 L490.55,408.82 L491.18,408.12 L491.79,407.46 L492.39,406.84 L492.98,406.25 L493.56,405.7 L494.12,405.18 L494.67,404.7 L495.21,404.25 L495.74,403.84 L496.25,403.47 L496.75,403.13 L497.25,402.81 L497.76,402.49 L498.27,402.19 L498.78,401.9 L499.29,401.63 L499.81,401.36 L500.33,401.11 L500.85,400.87 L501.37,400.64 L501.9,400.42 L502.43,400.22 L502.96,400.03 L503.5,399.85 L504.04,399.68 L504.58,399.52 L505.12,399.38 L505.65,399.26 L506.17,399.16 L506.68,399.08 L507.18,399.02 L507.66,398.98 L508.13,398.97 L508.59,398.97 L509.04,399 L509.47,399.05 L509.89,399.12 L510.3,399.21 L510.7,399.33 L511.09,399.46 L511.46,399.62Z" fill="none" stroke="#1a1a1a" stroke-width="1.1" />
<path d="M511.08,397.81 L511.52,397.99 L511.95,398.19 L512.37,398.41 L512.78,398.64 L513.18,398.88 L513.58,399.13 L513.96,399.4 L514.34,399.68 L514.71,399.97 L515.07,400.28 L515.42,400.6 L515.76,400.93 L516.1,401.28 L516.42,401.64 L516.74,402.01 L517.05,402.4 L517.35,402.8 L517.63,403.22 L517.9,403.66 L518.16,404.11 L518.4,404.59 L518.62,405.08 L518.83,405.59 L519.02,406.13 L519.2,406.68 L519.36,407.24 L519.51,407.83 L519.64,408.44 L519.76,409.06 L519.86,409.71 L519.95,410.37 L520.02,411.05 L520.08,411.75 L520.12,412.45 L520.15,413.14 L520.17,413.82 L520.17,414.5 L520.16,415.18 L520.14,415.85 L520.1,416.52 L520.05,417.18 L519.99,417.84 L519.91,418.49 L519.82,419.14 L519.72,419.78 L519.6,420.42 L519.47,421.06 L519.33,421.69 L519.17,422.31 L518.97,422.99 L518.73,423.71 L518.45,424.49 L518.12,425.32 L517.75,426.2 L517.33,427.13 L516.88,428.11 L516.38,429.14 L515.83,430.22 L515.25,431.36 L514.62,432.54 L513.95,433.77 L513.23,435.06 L512.47,436.39 L511.67,437.78 L510.83,439.22 L509.87,440.8 L508.78,442.53 L507.58,444.4 L506.27,446.41 L504.83,448.57 L503.27,450.88 L501.6,453.33 L499.8,455.92 L497.89,458.66 L495.86,461.54 L493.71,464.57 L491.44,467.74 L489.05,471.06 L486.55,474.52 L483.92,478.12 L481.18,481.88 L478.58,485.41 L476.12,488.74 L473.8,491.86 L471.62,494.77 L469.59,497.46 L467.69,499.95 L465.94,502.22 L464.33,504.28 L462.87,506.13 L461.54,507.77 L460.36,509.2 L459.31,510.42 L458.41,511.43 L457.65,512.23 L457.04,512.81 L456.56,513.19 L456.08,513.54 L455.58,513.88 L455.08,514.2 L454.56,514.5 L454.04,514.78 L453.5,515.04 L452.95,515.29 L452.4,515.51 L451.83,515.72 L451.25,515.91 L450.67,516.08 L450.07,516.22 L449.46,516.36 L448.85,516.47 L448.22,516.56 L447.58,516.64 L446.95,516.69 L446.32,516.71 L445.7,516.71 L445.09,516.69 L444.48,516.64 L443.87,516.56 L443.27,516.46 L442.68,516.34 L442.09,516.19 L441.51,516.01 L440.93,515.81 L440.36,515.59 L439.79,515.34 L439.23,515.06 L438.68,514.76 L438.12,514.44 L437.6,514.09 L437.09,513.71 L436.61,513.31 L436.14,512.89 L435.7,512.44 L435.28,511.97 L434.89,511.47 L434.51,510.95 L434.16,510.41 L433.83,509.83 L433.52,509.24 L433.23,508.62 L432.97,507.97 L432.72,507.3 L432.5,506.61 L432.3,505.89 L432.12,505.17 L431.96,504.45 L431.81,503.72 L431.69,503 L431.59,502.27 L431.5,501.54 L431.44,500.8 L431.39,500.07 L431.36,499.33 L431.35,498.6 L431.36,497.86 L431.39,497.11 L431.44,496.37 L431.51,495.62 L431.6,494.88 L431.7,494.12 L431.82,493.38 L431.95,492.64 L432.1,491.9 L432.25,491.16 L432.42,490.43 L432.6,489.71 L432.8,488.98 L433,488.27 L433.22,487.55 L433.45,486.84 L433.7,486.13 L433.95,485.43 L434.22,484.73 L434.5,484.04 L434.8,483.34 L435.1,482.66 L435.56,481.78 L436.18,480.7 L436.94,479.44 L437.86,477.98 L438.94,476.34 L440.16,474.5 L441.55,472.46 L443.08,470.24 L444.77,467.82 L446.61,465.21 L448.6,462.41 L450.75,459.42 L453.05,456.23 L455.51,452.85 L458.12,449.28 L460.88,445.52 L463.52,441.94 L466.02,438.53 L468.4,435.31 L470.65,432.26 L472.77,429.4 L474.77,426.71 L476.63,424.2 L478.37,421.87 L479.98,419.72 L481.46,417.76 L482.81,415.96 L484.04,414.35 L485.13,412.92 L486.1,411.67 L486.94,410.6 L487.66,409.7 L488.36,408.85 L489.04,408.02 L489.71,407.24 L490.37,406.49 L491.02,405.78 L491.65,405.1 L492.27,404.46 L492.88,403.86 L493.47,403.29 L494.05,402.76 L494.62,402.27 L495.17,401.81 L495.71,401.39 L496.24,401.01 L496.75,400.66 L497.25,400.34 L497.75,400.04 L498.24,399.76 L498.72,399.49 L499.2,399.23 L499.68,398.98 L500.15,398.75 L500.62,398.53 L501.08,398.32 L501.54,398.13 L501.99,397.95 L502.44,397.78 L502.88,397.63 L503.32,397.49 L503.76,397.36 L504.19,397.25 L504.61,397.15 L505.04,397.07 L505.46,397 L505.89,396.96 L506.32,396.93 L506.75,396.92 L507.18,396.93 L507.61,396.95 L508.04,397 L508.47,397.06 L508.91,397.14 L509.34,397.24 L509.77,397.35 L510.21,397.49 L510.64,397.64Z" fill="none" stroke="#444" stroke-width="0.8" />
<path d="M438.5,479 L481.5,419 L490,408.5" fill="none" stroke="#222" stroke-width="1.5" />
</g>
</svg>
</body></html>
